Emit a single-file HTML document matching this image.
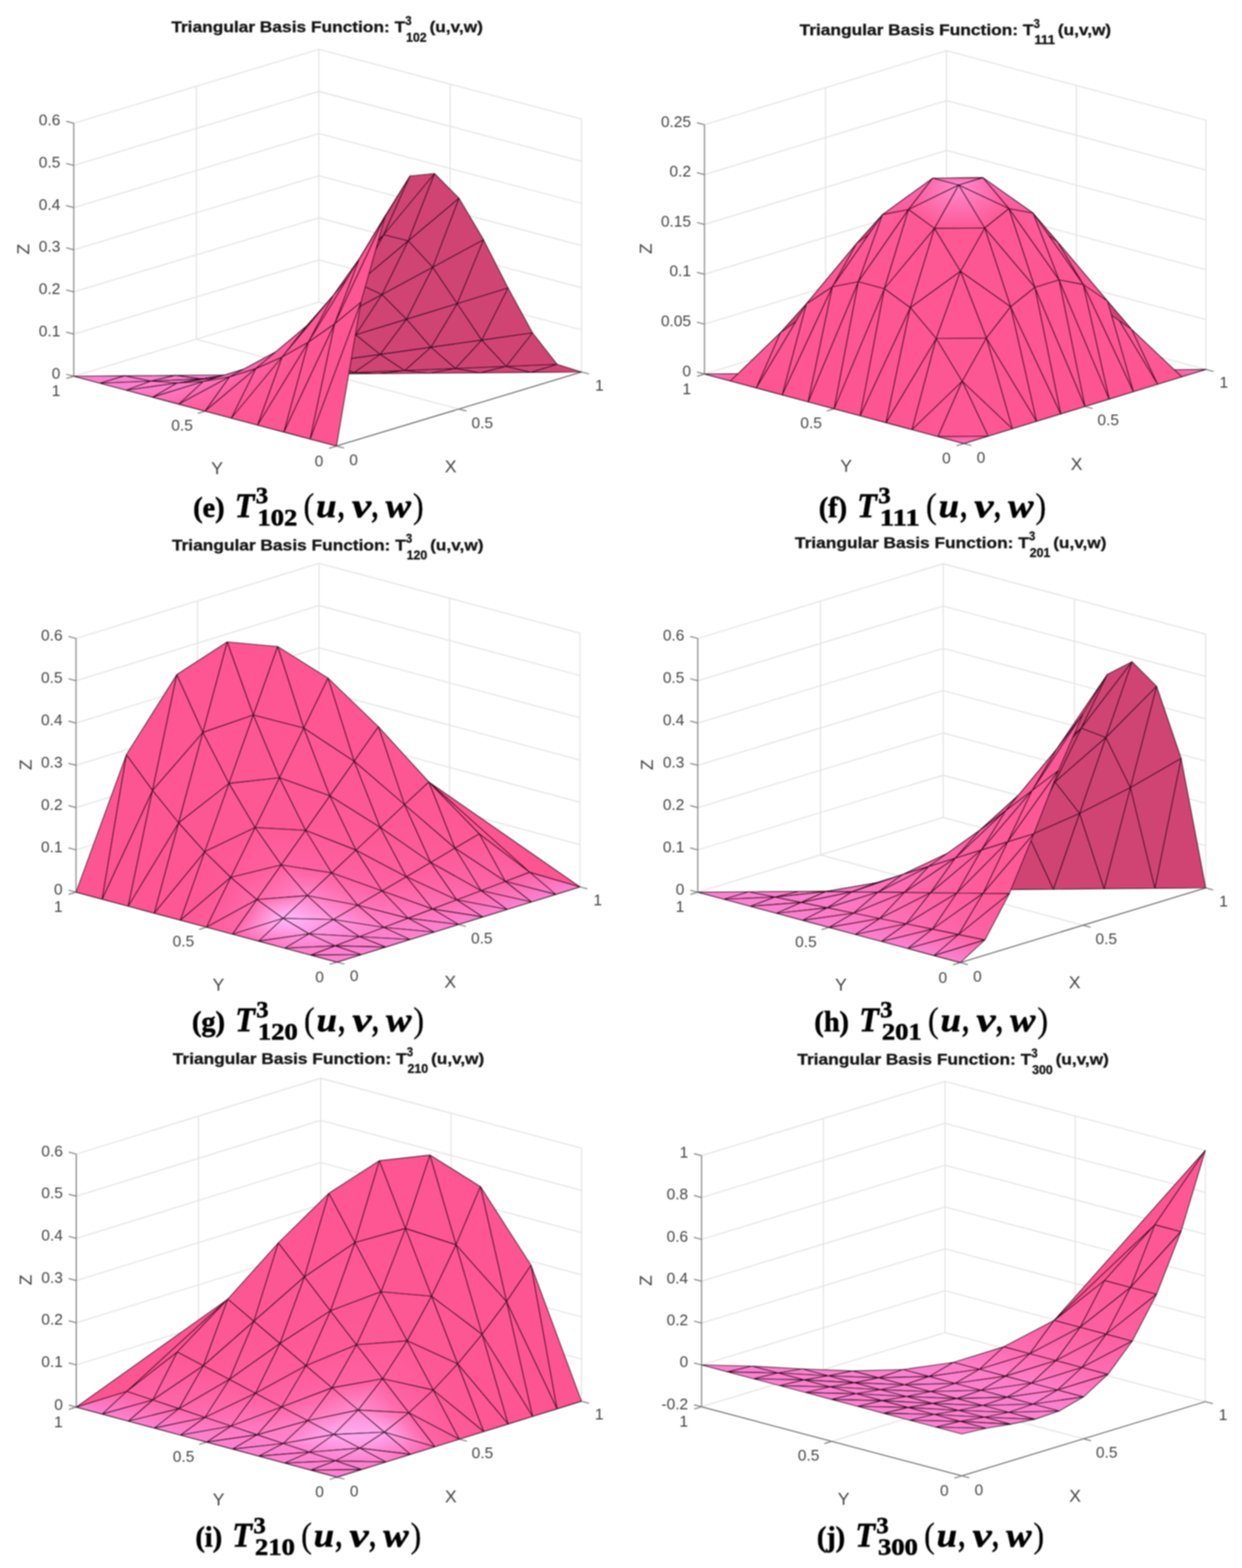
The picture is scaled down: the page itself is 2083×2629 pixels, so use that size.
<!DOCTYPE html>
<html lang="en"><head><meta charset="utf-8"><title>Triangular Basis Functions</title>
<style>html,body{margin:0;padding:0;background:#fff}body{width:2083px;height:2629px;overflow:hidden}svg{display:block;filter:blur(0.9px)}</style></head><body>
<svg xmlns="http://www.w3.org/2000/svg" width="2083" height="2629" viewBox="0 0 2083 2629">
<defs><linearGradient id="g1" gradientUnits="userSpaceOnUse" x1="485.0" y1="635.6" x2="459.7" y2="618.2"><stop offset="0" stop-color="#fd5693"/><stop offset="1" stop-color="#fd5a98"/></linearGradient><linearGradient id="g2" gradientUnits="userSpaceOnUse" x1="447.7" y1="705.2" x2="410.8" y2="628.6"><stop offset="0" stop-color="#fd5693"/><stop offset="1" stop-color="#fd5a98"/></linearGradient><linearGradient id="g3" gradientUnits="userSpaceOnUse" x1="438.5" y1="647.0" x2="419.0" y2="628.8"><stop offset="0" stop-color="#fd5895"/><stop offset="1" stop-color="#fc61a1"/></linearGradient><linearGradient id="g4" gradientUnits="userSpaceOnUse" x1="396.9" y1="698.0" x2="375.7" y2="636.2"><stop offset="0" stop-color="#fd5895"/><stop offset="1" stop-color="#fc61a1"/></linearGradient><linearGradient id="g5" gradientUnits="userSpaceOnUse" x1="392.0" y1="654.3" x2="378.8" y2="636.3"><stop offset="0" stop-color="#fd5b9a"/><stop offset="1" stop-color="#fb6cb1"/></linearGradient><linearGradient id="g6" gradientUnits="userSpaceOnUse" x1="337.2" y1="644.7" x2="348.9" y2="688.0"><stop offset="0" stop-color="#fc6cb1"/><stop offset="1" stop-color="#fd5b9a"/></linearGradient><linearGradient id="g7" gradientUnits="userSpaceOnUse" x1="345.5" y1="657.5" x2="338.2" y2="641.0"><stop offset="0" stop-color="#fc64a6"/><stop offset="1" stop-color="#fb77c1"/></linearGradient><linearGradient id="g8" gradientUnits="userSpaceOnUse" x1="296.4" y1="651.6" x2="303.1" y2="676.8"><stop offset="0" stop-color="#fd78c1"/><stop offset="1" stop-color="#fc64a6"/></linearGradient><linearGradient id="g9" gradientUnits="userSpaceOnUse" x1="299.4" y1="654.7" x2="296.2" y2="642.4"><stop offset="0" stop-color="#fd75bd"/><stop offset="1" stop-color="#fa7eca"/></linearGradient><linearGradient id="g10" gradientUnits="userSpaceOnUse" x1="256.9" y1="665.7" x2="253.7" y2="647.1"><stop offset="0" stop-color="#ff75bd"/><stop offset="1" stop-color="#fb7fcc"/></linearGradient><linearGradient id="g11" gradientUnits="userSpaceOnUse" x1="252.7" y1="639.0" x2="255.0" y2="650.5"><stop offset="0" stop-color="#fa81ce"/><stop offset="1" stop-color="#fc7eca"/></linearGradient><linearGradient id="g12" gradientUnits="userSpaceOnUse" x1="211.9" y1="654.2" x2="210.0" y2="637.7"><stop offset="0" stop-color="#fc80cc"/><stop offset="1" stop-color="#fa82d0"/></linearGradient><linearGradient id="g13" gradientUnits="userSpaceOnUse" x1="561.3" y1="502.4" x2="556.3" y2="499.3"><stop offset="0" stop-color="#fd5794"/><stop offset="1" stop-color="#fd5a98"/></linearGradient><linearGradient id="g14" gradientUnits="userSpaceOnUse" x1="525.5" y1="563.6" x2="511.7" y2="552.2"><stop offset="0" stop-color="#fd5794"/><stop offset="1" stop-color="#fd5a98"/></linearGradient><linearGradient id="g15" gradientUnits="userSpaceOnUse" x1="515.7" y1="547.4" x2="514.5" y2="546.3"><stop offset="0" stop-color="#fd5a98"/><stop offset="1" stop-color="#fc5e9e"/></linearGradient><linearGradient id="g16" gradientUnits="userSpaceOnUse" x1="478.1" y1="593.9" x2="467.1" y2="582.2"><stop offset="0" stop-color="#fd5a98"/><stop offset="1" stop-color="#fc61a1"/></linearGradient><linearGradient id="g17" gradientUnits="userSpaceOnUse" x1="431.4" y1="616.4" x2="423.6" y2="605.1"><stop offset="0" stop-color="#fc61a1"/><stop offset="1" stop-color="#fb6cb1"/></linearGradient><linearGradient id="g18" gradientUnits="userSpaceOnUse" x1="386.8" y1="633.6" x2="379.9" y2="620.0"><stop offset="0" stop-color="#fc6aae"/><stop offset="1" stop-color="#fb77c1"/></linearGradient><linearGradient id="g19" gradientUnits="userSpaceOnUse" x1="379.1" y1="645.2" x2="299.6" y2="629.3"><stop offset="0" stop-color="#fb72b9"/><stop offset="1" stop-color="#fa7eca"/></linearGradient><linearGradient id="g20" gradientUnits="userSpaceOnUse" x1="339.4" y1="637.8" x2="338.9" y2="634.7"><stop offset="0" stop-color="#fb72b9"/><stop offset="1" stop-color="#fa7eca"/></linearGradient><linearGradient id="g21" gradientUnits="userSpaceOnUse" x1="316.5" y1="658.2" x2="273.3" y2="617.4"><stop offset="0" stop-color="#fa7bc7"/><stop offset="1" stop-color="#fa81ce"/></linearGradient><linearGradient id="g22" gradientUnits="userSpaceOnUse" x1="296.2" y1="642.2" x2="294.2" y2="629.4"><stop offset="0" stop-color="#fa7bc7"/><stop offset="1" stop-color="#fa82d0"/></linearGradient><linearGradient id="g23" gradientUnits="userSpaceOnUse" x1="380.5" y1="635.4" x2="379.9" y2="628.6"><stop offset="0" stop-color="#fb74bd"/><stop offset="1" stop-color="#fa82d0"/></linearGradient><linearGradient id="g24" gradientUnits="userSpaceOnUse" x1="337.1" y1="635.4" x2="337.1" y2="629.0"><stop offset="0" stop-color="#fa7bc7"/><stop offset="1" stop-color="#fa82d0"/></linearGradient><linearGradient id="g25" gradientUnits="userSpaceOnUse" x1="465.4" y1="630.6" x2="465.2" y2="627.9"><stop offset="0" stop-color="#fb6db3"/><stop offset="1" stop-color="#fa82d0"/></linearGradient><linearGradient id="g26" gradientUnits="userSpaceOnUse" x1="422.3" y1="631.9" x2="422.2" y2="628.3"><stop offset="0" stop-color="#fb74bd"/><stop offset="1" stop-color="#fa82d0"/></linearGradient><linearGradient id="g27" gradientUnits="userSpaceOnUse" x1="507.4" y1="628.4" x2="507.4" y2="627.6"><stop offset="0" stop-color="#fb6db3"/><stop offset="1" stop-color="#fa82d0"/></linearGradient><linearGradient id="g28" gradientUnits="userSpaceOnUse" x1="1615.6" y1="731.6" x2="1615.7" y2="743.6"><stop offset="0" stop-color="#fd5896"/><stop offset="1" stop-color="#fa82d0"/></linearGradient><linearGradient id="g29" gradientUnits="userSpaceOnUse" x1="1550.1" y1="684.5" x2="1587.9" y2="706.2"><stop offset="0" stop-color="#fd5692"/><stop offset="1" stop-color="#fd5896"/></linearGradient><linearGradient id="g30" gradientUnits="userSpaceOnUse" x1="1368.1" y1="558.5" x2="1335.5" y2="540.9"><stop offset="0" stop-color="#fd5591"/><stop offset="1" stop-color="#fd5996"/></linearGradient><linearGradient id="g31" gradientUnits="userSpaceOnUse" x1="1317.6" y1="661.4" x2="1300.0" y2="515.6"><stop offset="0" stop-color="#fd5591"/><stop offset="1" stop-color="#fd5996"/></linearGradient><linearGradient id="g32" gradientUnits="userSpaceOnUse" x1="1318.3" y1="578.1" x2="1302.6" y2="567.3"><stop offset="0" stop-color="#fd5692"/><stop offset="1" stop-color="#fd5b99"/></linearGradient><linearGradient id="g33" gradientUnits="userSpaceOnUse" x1="1282.2" y1="643.0" x2="1252.7" y2="588.0"><stop offset="0" stop-color="#fd5692"/><stop offset="1" stop-color="#fd5b99"/></linearGradient><linearGradient id="g34" gradientUnits="userSpaceOnUse" x1="1226.9" y1="639.3" x2="1218.6" y2="614.6"><stop offset="0" stop-color="#fd5693"/><stop offset="1" stop-color="#fa82d0"/></linearGradient><linearGradient id="g35" gradientUnits="userSpaceOnUse" x1="1676.8" y1="684.0" x2="1641.5" y2="705.3"><stop offset="0" stop-color="#fd5692"/><stop offset="1" stop-color="#fd5896"/></linearGradient><linearGradient id="g36" gradientUnits="userSpaceOnUse" x1="1547.5" y1="452.1" x2="1502.7" y2="361.6"><stop offset="0" stop-color="#fd5692"/><stop offset="1" stop-color="#fd5997"/></linearGradient><linearGradient id="g37" gradientUnits="userSpaceOnUse" x1="1475.3" y1="482.8" x2="1495.2" y2="347.0"><stop offset="0" stop-color="#fd5692"/><stop offset="1" stop-color="#fd5997"/></linearGradient><linearGradient id="g38" gradientUnits="userSpaceOnUse" x1="1500.4" y1="414.6" x2="1463.4" y2="375.6"><stop offset="0" stop-color="#fd5692"/><stop offset="1" stop-color="#fd5c9b"/></linearGradient><linearGradient id="g39" gradientUnits="userSpaceOnUse" x1="1450.8" y1="467.8" x2="1417.5" y2="384.8"><stop offset="0" stop-color="#fd5692"/><stop offset="1" stop-color="#fd5c9b"/></linearGradient><linearGradient id="g40" gradientUnits="userSpaceOnUse" x1="1385.2" y1="426.8" x2="1489.6" y2="405.6"><stop offset="0" stop-color="#fd5693"/><stop offset="1" stop-color="#fd5c9b"/></linearGradient><linearGradient id="g41" gradientUnits="userSpaceOnUse" x1="1403.0" y1="473.0" x2="1389.7" y2="461.1"><stop offset="0" stop-color="#fd5693"/><stop offset="1" stop-color="#fd5997"/></linearGradient><linearGradient id="g42" gradientUnits="userSpaceOnUse" x1="1608.4" y1="310.3" x2="1609.1" y2="382.5"><stop offset="0" stop-color="#ff8cce"/><stop offset="1" stop-color="#fd5895"/></linearGradient><linearGradient id="g43" gradientUnits="userSpaceOnUse" x1="1595.6" y1="302.5" x2="1550.8" y2="372.4"><stop offset="0" stop-color="#ff8cce"/><stop offset="1" stop-color="#fd5895"/></linearGradient><linearGradient id="g44" gradientUnits="userSpaceOnUse" x1="1606.5" y1="324.1" x2="1527.2" y2="316.3"><stop offset="0" stop-color="#ff8dcd"/><stop offset="1" stop-color="#fa579a"/></linearGradient><linearGradient id="g45" gradientUnits="userSpaceOnUse" x1="1527.2" y1="350.1" x2="1515.6" y2="314.5"><stop offset="0" stop-color="#fd5997"/><stop offset="1" stop-color="#fb6db3"/></linearGradient><linearGradient id="g46" gradientUnits="userSpaceOnUse" x1="1670.7" y1="449.7" x2="1714.5" y2="360.8"><stop offset="0" stop-color="#fd5692"/><stop offset="1" stop-color="#fd5997"/></linearGradient><linearGradient id="g47" gradientUnits="userSpaceOnUse" x1="1618.9" y1="302.6" x2="1667.1" y2="371.1"><stop offset="0" stop-color="#ff8cce"/><stop offset="1" stop-color="#fd5895"/></linearGradient><linearGradient id="g48" gradientUnits="userSpaceOnUse" x1="1610.8" y1="326.4" x2="1685.2" y2="312.7"><stop offset="0" stop-color="#ff8dcd"/><stop offset="1" stop-color="#fa579b"/></linearGradient><linearGradient id="g49" gradientUnits="userSpaceOnUse" x1="1607.0" y1="310.3" x2="1606.9" y2="298.3"><stop offset="0" stop-color="#ff8cce"/><stop offset="1" stop-color="#fb6db3"/></linearGradient><linearGradient id="g50" gradientUnits="userSpaceOnUse" x1="1742.7" y1="480.4" x2="1719.0" y2="344.9"><stop offset="0" stop-color="#fd5692"/><stop offset="1" stop-color="#fd5997"/></linearGradient><linearGradient id="g51" gradientUnits="userSpaceOnUse" x1="1715.4" y1="411.1" x2="1750.5" y2="374.4"><stop offset="0" stop-color="#fd5692"/><stop offset="1" stop-color="#fd5c9b"/></linearGradient><linearGradient id="g52" gradientUnits="userSpaceOnUse" x1="1686.8" y1="348.0" x2="1697.8" y2="313.9"><stop offset="0" stop-color="#fd5997"/><stop offset="1" stop-color="#fb6db3"/></linearGradient><linearGradient id="g53" gradientUnits="userSpaceOnUse" x1="1763.1" y1="464.0" x2="1796.0" y2="383.1"><stop offset="0" stop-color="#fd5692"/><stop offset="1" stop-color="#fd5c9b"/></linearGradient><linearGradient id="g54" gradientUnits="userSpaceOnUse" x1="1812.5" y1="410.7" x2="1736.2" y2="415.5"><stop offset="0" stop-color="#fd5693"/><stop offset="1" stop-color="#fd5c9b"/></linearGradient><linearGradient id="g55" gradientUnits="userSpaceOnUse" x1="1845.0" y1="553.2" x2="1874.8" y2="537.1"><stop offset="0" stop-color="#fd5591"/><stop offset="1" stop-color="#fd5996"/></linearGradient><linearGradient id="g56" gradientUnits="userSpaceOnUse" x1="1808.9" y1="468.2" x2="1820.5" y2="457.9"><stop offset="0" stop-color="#fd5693"/><stop offset="1" stop-color="#fd5997"/></linearGradient><linearGradient id="g57" gradientUnits="userSpaceOnUse" x1="1893.9" y1="655.9" x2="1909.8" y2="510.3"><stop offset="0" stop-color="#fd5591"/><stop offset="1" stop-color="#fd5996"/></linearGradient><linearGradient id="g58" gradientUnits="userSpaceOnUse" x1="1892.1" y1="571.6" x2="1905.0" y2="562.9"><stop offset="0" stop-color="#fd5692"/><stop offset="1" stop-color="#fd5b99"/></linearGradient><linearGradient id="g59" gradientUnits="userSpaceOnUse" x1="1926.2" y1="636.2" x2="1954.7" y2="582.5"><stop offset="0" stop-color="#fd5692"/><stop offset="1" stop-color="#fd5b99"/></linearGradient><linearGradient id="g60" gradientUnits="userSpaceOnUse" x1="1978.6" y1="632.0" x2="1985.5" y2="608.5"><stop offset="0" stop-color="#fd5693"/><stop offset="1" stop-color="#fa82d0"/></linearGradient><linearGradient id="g61" gradientUnits="userSpaceOnUse" x1="517.1" y1="1579.5" x2="522.7" y2="1601.1"><stop offset="0" stop-color="#fd80cc"/><stop offset="1" stop-color="#fa82d0"/></linearGradient><linearGradient id="g62" gradientUnits="userSpaceOnUse" x1="519.2" y1="1565.7" x2="519.5" y2="1589.1"><stop offset="0" stop-color="#ff99e3"/><stop offset="1" stop-color="#fc7fcc"/></linearGradient><linearGradient id="g63" gradientUnits="userSpaceOnUse" x1="455.2" y1="1599.2" x2="503.6" y2="1550.9"><stop offset="0" stop-color="#fb73c0"/><stop offset="1" stop-color="#ff9ae1"/></linearGradient><linearGradient id="g64" gradientUnits="userSpaceOnUse" x1="478.4" y1="1540.3" x2="472.7" y2="1583.1"><stop offset="0" stop-color="#ffbbff"/><stop offset="1" stop-color="#ff74bf"/></linearGradient><linearGradient id="g65" gradientUnits="userSpaceOnUse" x1="457.7" y1="1527.4" x2="415.7" y2="1584.9"><stop offset="0" stop-color="#febdfd"/><stop offset="1" stop-color="#fe61a8"/></linearGradient><linearGradient id="g66" gradientUnits="userSpaceOnUse" x1="463.6" y1="1557.7" x2="414.2" y2="1527.2"><stop offset="0" stop-color="#febbff"/><stop offset="1" stop-color="#fe64a5"/></linearGradient><linearGradient id="g67" gradientUnits="userSpaceOnUse" x1="421.5" y1="1550.2" x2="350.8" y2="1534.5"><stop offset="0" stop-color="#fd6aac"/><stop offset="1" stop-color="#fd5c99"/></linearGradient><linearGradient id="g68" gradientUnits="userSpaceOnUse" x1="420.4" y1="1528.2" x2="370.7" y2="1502.1"><stop offset="0" stop-color="#ff6bab"/><stop offset="1" stop-color="#fd5a99"/></linearGradient><linearGradient id="g69" gradientUnits="userSpaceOnUse" x1="323.4" y1="1509.2" x2="360.3" y2="1532.0"><stop offset="0" stop-color="#fd5895"/><stop offset="1" stop-color="#fd5b9a"/></linearGradient><linearGradient id="g70" gradientUnits="userSpaceOnUse" x1="377.6" y1="1494.2" x2="325.0" y2="1472.7"><stop offset="0" stop-color="#fd5a98"/><stop offset="1" stop-color="#fd5794"/></linearGradient><linearGradient id="g71" gradientUnits="userSpaceOnUse" x1="603.4" y1="1570.5" x2="604.4" y2="1590.0"><stop offset="0" stop-color="#fe81cd"/><stop offset="1" stop-color="#fa82d0"/></linearGradient><linearGradient id="g72" gradientUnits="userSpaceOnUse" x1="551.8" y1="1551.7" x2="566.1" y2="1585.9"><stop offset="0" stop-color="#ff99e2"/><stop offset="1" stop-color="#fb81ce"/></linearGradient><linearGradient id="g73" gradientUnits="userSpaceOnUse" x1="549.3" y1="1543.9" x2="579.6" y2="1586.9"><stop offset="0" stop-color="#ff9ae2"/><stop offset="1" stop-color="#fe80cf"/></linearGradient><linearGradient id="g74" gradientUnits="userSpaceOnUse" x1="500.1" y1="1523.0" x2="526.7" y2="1563.2"><stop offset="0" stop-color="#ffbcfe"/><stop offset="1" stop-color="#ff97e2"/></linearGradient><linearGradient id="g75" gradientUnits="userSpaceOnUse" x1="506.1" y1="1552.8" x2="525.4" y2="1505.8"><stop offset="0" stop-color="#ffbaff"/><stop offset="1" stop-color="#ff84c8"/></linearGradient><linearGradient id="g76" gradientUnits="userSpaceOnUse" x1="469.4" y1="1498.9" x2="479.0" y2="1538.8"><stop offset="0" stop-color="#ff6aac"/><stop offset="1" stop-color="#ffbbff"/></linearGradient><linearGradient id="g77" gradientUnits="userSpaceOnUse" x1="454.4" y1="1464.0" x2="496.6" y2="1516.7"><stop offset="0" stop-color="#ff609f"/><stop offset="1" stop-color="#ff85c7"/></linearGradient><linearGradient id="g78" gradientUnits="userSpaceOnUse" x1="442.8" y1="1502.2" x2="419.1" y2="1455.0"><stop offset="0" stop-color="#ff6bab"/><stop offset="1" stop-color="#fe5a98"/></linearGradient><linearGradient id="g79" gradientUnits="userSpaceOnUse" x1="462.8" y1="1461.9" x2="404.8" y2="1418.0"><stop offset="0" stop-color="#ff609f"/><stop offset="1" stop-color="#fd5996"/></linearGradient><linearGradient id="g80" gradientUnits="userSpaceOnUse" x1="407.5" y1="1452.7" x2="366.6" y2="1407.2"><stop offset="0" stop-color="#fd5a98"/><stop offset="1" stop-color="#fd5794"/></linearGradient><linearGradient id="g81" gradientUnits="userSpaceOnUse" x1="639.9" y1="1559.1" x2="648.6" y2="1587.3"><stop offset="0" stop-color="#fe81cd"/><stop offset="1" stop-color="#fa82d0"/></linearGradient><linearGradient id="g82" gradientUnits="userSpaceOnUse" x1="645.5" y1="1578.4" x2="643.8" y2="1555.0"><stop offset="0" stop-color="#fb82d0"/><stop offset="1" stop-color="#ff7fc9"/></linearGradient><linearGradient id="g83" gradientUnits="userSpaceOnUse" x1="612.1" y1="1573.3" x2="585.1" y2="1526.7"><stop offset="0" stop-color="#fe7eca"/><stop offset="1" stop-color="#ff99df"/></linearGradient><linearGradient id="g84" gradientUnits="userSpaceOnUse" x1="591.7" y1="1557.4" x2="608.7" y2="1522.0"><stop offset="0" stop-color="#ff97e1"/><stop offset="1" stop-color="#ff73b8"/></linearGradient><linearGradient id="g85" gradientUnits="userSpaceOnUse" x1="551.0" y1="1538.6" x2="564.6" y2="1504.0"><stop offset="0" stop-color="#ff99e0"/><stop offset="1" stop-color="#ff74b7"/></linearGradient><linearGradient id="g86" gradientUnits="userSpaceOnUse" x1="546.0" y1="1516.8" x2="569.2" y2="1470.0"><stop offset="0" stop-color="#ff84c8"/><stop offset="1" stop-color="#ff61a1"/></linearGradient><linearGradient id="g87" gradientUnits="userSpaceOnUse" x1="510.2" y1="1500.9" x2="516.5" y2="1456.7"><stop offset="0" stop-color="#ff85c7"/><stop offset="1" stop-color="#ff60a0"/></linearGradient><linearGradient id="g88" gradientUnits="userSpaceOnUse" x1="511.9" y1="1460.9" x2="515.9" y2="1392.5"><stop offset="0" stop-color="#ff61a1"/><stop offset="1" stop-color="#fd5a97"/></linearGradient><linearGradient id="g89" gradientUnits="userSpaceOnUse" x1="472.7" y1="1450.2" x2="469.3" y2="1385.3"><stop offset="0" stop-color="#ff609f"/><stop offset="1" stop-color="#fd5996"/></linearGradient><linearGradient id="g90" gradientUnits="userSpaceOnUse" x1="680.1" y1="1543.8" x2="689.6" y2="1574.6"><stop offset="0" stop-color="#ff7fc9"/><stop offset="1" stop-color="#fa82d0"/></linearGradient><linearGradient id="g91" gradientUnits="userSpaceOnUse" x1="686.1" y1="1565.0" x2="684.7" y2="1539.6"><stop offset="0" stop-color="#fc83d0"/><stop offset="1" stop-color="#ff79c1"/></linearGradient><linearGradient id="g92" gradientUnits="userSpaceOnUse" x1="643.2" y1="1519.1" x2="642.1" y2="1555.0"><stop offset="0" stop-color="#ff73b8"/><stop offset="1" stop-color="#ff7fc9"/></linearGradient><linearGradient id="g93" gradientUnits="userSpaceOnUse" x1="644.1" y1="1494.2" x2="639.8" y2="1534.8"><stop offset="0" stop-color="#fd64a6"/><stop offset="1" stop-color="#ff7ac1"/></linearGradient><linearGradient id="g94" gradientUnits="userSpaceOnUse" x1="592.6" y1="1515.9" x2="603.1" y2="1475.8"><stop offset="0" stop-color="#ff74b8"/><stop offset="1" stop-color="#fe61a1"/></linearGradient><linearGradient id="g95" gradientUnits="userSpaceOnUse" x1="595.5" y1="1490.1" x2="600.8" y2="1425.7"><stop offset="0" stop-color="#fe64a5"/><stop offset="1" stop-color="#fd5b99"/></linearGradient><linearGradient id="g96" gradientUnits="userSpaceOnUse" x1="546.1" y1="1460.8" x2="561.0" y2="1405.3"><stop offset="0" stop-color="#ff61a1"/><stop offset="1" stop-color="#fd5a98"/></linearGradient><linearGradient id="g97" gradientUnits="userSpaceOnUse" x1="555.5" y1="1426.7" x2="552.5" y2="1334.3"><stop offset="0" stop-color="#fd5b99"/><stop offset="1" stop-color="#fd5895"/></linearGradient><linearGradient id="g98" gradientUnits="userSpaceOnUse" x1="503.7" y1="1390.9" x2="516.5" y2="1311.7"><stop offset="0" stop-color="#fd5a97"/><stop offset="1" stop-color="#fd5794"/></linearGradient><linearGradient id="g99" gradientUnits="userSpaceOnUse" x1="720.3" y1="1528.5" x2="730.6" y2="1561.9"><stop offset="0" stop-color="#ff79c1"/><stop offset="1" stop-color="#fa82d0"/></linearGradient><linearGradient id="g100" gradientUnits="userSpaceOnUse" x1="727.7" y1="1553.9" x2="724.9" y2="1524.2"><stop offset="0" stop-color="#fc83d0"/><stop offset="1" stop-color="#fe72b8"/></linearGradient><linearGradient id="g101" gradientUnits="userSpaceOnUse" x1="683.6" y1="1539.6" x2="683.2" y2="1493.5"><stop offset="0" stop-color="#ff79c1"/><stop offset="1" stop-color="#fd64a6"/></linearGradient><linearGradient id="g102" gradientUnits="userSpaceOnUse" x1="678.3" y1="1470.4" x2="687.9" y2="1530.1"><stop offset="0" stop-color="#fd5f9e"/><stop offset="1" stop-color="#ff72b8"/></linearGradient><linearGradient id="g103" gradientUnits="userSpaceOnUse" x1="632.3" y1="1491.7" x2="646.1" y2="1438.0"><stop offset="0" stop-color="#fe64a6"/><stop offset="1" stop-color="#fc5b99"/></linearGradient><linearGradient id="g104" gradientUnits="userSpaceOnUse" x1="634.4" y1="1387.6" x2="643.6" y2="1474.0"><stop offset="0" stop-color="#fd5996"/><stop offset="1" stop-color="#fd5f9e"/></linearGradient><linearGradient id="g105" gradientUnits="userSpaceOnUse" x1="582.6" y1="1420.4" x2="606.2" y2="1352.7"><stop offset="0" stop-color="#fd5b99"/><stop offset="1" stop-color="#fd5895"/></linearGradient><linearGradient id="g106" gradientUnits="userSpaceOnUse" x1="760.5" y1="1513.2" x2="771.7" y2="1549.2"><stop offset="0" stop-color="#fe72b8"/><stop offset="1" stop-color="#fa82d0"/></linearGradient><linearGradient id="g107" gradientUnits="userSpaceOnUse" x1="770.1" y1="1543.6" x2="764.7" y2="1508.9"><stop offset="0" stop-color="#fc82d0"/><stop offset="1" stop-color="#fd6cb0"/></linearGradient><linearGradient id="g108" gradientUnits="userSpaceOnUse" x1="723.6" y1="1524.1" x2="725.0" y2="1471.0"><stop offset="0" stop-color="#fe72b8"/><stop offset="1" stop-color="#fc5e9e"/></linearGradient><linearGradient id="g109" gradientUnits="userSpaceOnUse" x1="733.8" y1="1516.8" x2="716.2" y2="1447.4"><stop offset="0" stop-color="#fd6cb0"/><stop offset="1" stop-color="#fd5c9a"/></linearGradient><linearGradient id="g110" gradientUnits="userSpaceOnUse" x1="671.1" y1="1467.0" x2="689.6" y2="1402.1"><stop offset="0" stop-color="#fd5f9e"/><stop offset="1" stop-color="#fd5996"/></linearGradient><linearGradient id="g111" gradientUnits="userSpaceOnUse" x1="672.3" y1="1350.1" x2="688.6" y2="1451.3"><stop offset="0" stop-color="#fd5794"/><stop offset="1" stop-color="#fd5c9a"/></linearGradient><linearGradient id="g112" gradientUnits="userSpaceOnUse" x1="800.7" y1="1497.9" x2="812.7" y2="1536.5"><stop offset="0" stop-color="#fd6cb0"/><stop offset="1" stop-color="#fa82d0"/></linearGradient><linearGradient id="g113" gradientUnits="userSpaceOnUse" x1="804.5" y1="1493.7" x2="812.7" y2="1532.8"><stop offset="0" stop-color="#fc67aa"/><stop offset="1" stop-color="#fb82d0"/></linearGradient><linearGradient id="g114" gradientUnits="userSpaceOnUse" x1="763.7" y1="1508.6" x2="766.5" y2="1447.9"><stop offset="0" stop-color="#fd6cb0"/><stop offset="1" stop-color="#fc5b9a"/></linearGradient><linearGradient id="g115" gradientUnits="userSpaceOnUse" x1="778.1" y1="1501.7" x2="755.2" y2="1424.3"><stop offset="0" stop-color="#fc67aa"/><stop offset="1" stop-color="#fd5a97"/></linearGradient><linearGradient id="g116" gradientUnits="userSpaceOnUse" x1="733.8" y1="1367.5" x2="709.2" y2="1441.7"><stop offset="0" stop-color="#fd5794"/><stop offset="1" stop-color="#fd5c9a"/></linearGradient><linearGradient id="g117" gradientUnits="userSpaceOnUse" x1="710.6" y1="1312.7" x2="733.5" y2="1427.8"><stop offset="0" stop-color="#fd5793"/><stop offset="1" stop-color="#fd5a97"/></linearGradient><linearGradient id="g118" gradientUnits="userSpaceOnUse" x1="840.9" y1="1482.7" x2="853.7" y2="1523.8"><stop offset="0" stop-color="#fc67aa"/><stop offset="1" stop-color="#fa82d0"/></linearGradient><linearGradient id="g119" gradientUnits="userSpaceOnUse" x1="844.4" y1="1478.6" x2="855.2" y2="1521.3"><stop offset="0" stop-color="#fc64a5"/><stop offset="1" stop-color="#fa82d0"/></linearGradient><linearGradient id="g120" gradientUnits="userSpaceOnUse" x1="804.0" y1="1493.1" x2="808.0" y2="1424.6"><stop offset="0" stop-color="#fc67aa"/><stop offset="1" stop-color="#fc5a98"/></linearGradient><linearGradient id="g121" gradientUnits="userSpaceOnUse" x1="794.3" y1="1401.1" x2="822.2" y2="1486.1"><stop offset="0" stop-color="#fd5896"/><stop offset="1" stop-color="#fc64a5"/></linearGradient><linearGradient id="g122" gradientUnits="userSpaceOnUse" x1="778.4" y1="1333.3" x2="747.2" y2="1416.1"><stop offset="0" stop-color="#fd5793"/><stop offset="1" stop-color="#fd5a97"/></linearGradient><linearGradient id="g123" gradientUnits="userSpaceOnUse" x1="881.2" y1="1467.4" x2="894.7" y2="1511.1"><stop offset="0" stop-color="#fc64a5"/><stop offset="1" stop-color="#fa82d0"/></linearGradient><linearGradient id="g124" gradientUnits="userSpaceOnUse" x1="884.5" y1="1463.4" x2="897.4" y2="1509.3"><stop offset="0" stop-color="#fc61a2"/><stop offset="1" stop-color="#fa82d0"/></linearGradient><linearGradient id="g125" gradientUnits="userSpaceOnUse" x1="844.1" y1="1477.6" x2="849.7" y2="1401.4"><stop offset="0" stop-color="#fc64a5"/><stop offset="1" stop-color="#fd5896"/></linearGradient><linearGradient id="g126" gradientUnits="userSpaceOnUse" x1="921.4" y1="1452.1" x2="935.7" y2="1498.4"><stop offset="0" stop-color="#fc61a2"/><stop offset="1" stop-color="#fa82d0"/></linearGradient><linearGradient id="g127" gradientUnits="userSpaceOnUse" x1="1617.8" y1="1566.8" x2="1605.5" y2="1612.5"><stop offset="0" stop-color="#fc62a3"/><stop offset="1" stop-color="#fa82d0"/></linearGradient><linearGradient id="g128" gradientUnits="userSpaceOnUse" x1="1614.2" y1="1564.0" x2="1599.0" y2="1612.3"><stop offset="0" stop-color="#fc62a3"/><stop offset="1" stop-color="#fa82d0"/></linearGradient><linearGradient id="g129" gradientUnits="userSpaceOnUse" x1="1573.3" y1="1557.7" x2="1561.8" y2="1600.8"><stop offset="0" stop-color="#fc65a7"/><stop offset="1" stop-color="#fa82d0"/></linearGradient><linearGradient id="g130" gradientUnits="userSpaceOnUse" x1="1571.2" y1="1553.7" x2="1553.9" y2="1601.6"><stop offset="0" stop-color="#fd65a7"/><stop offset="1" stop-color="#fa82d0"/></linearGradient><linearGradient id="g131" gradientUnits="userSpaceOnUse" x1="1528.8" y1="1548.6" x2="1518.0" y2="1589.1"><stop offset="0" stop-color="#fc69ad"/><stop offset="1" stop-color="#fa82d0"/></linearGradient><linearGradient id="g132" gradientUnits="userSpaceOnUse" x1="1529.0" y1="1542.7" x2="1507.7" y2="1591.3"><stop offset="0" stop-color="#fd69ad"/><stop offset="1" stop-color="#f982d0"/></linearGradient><linearGradient id="g133" gradientUnits="userSpaceOnUse" x1="1484.3" y1="1539.5" x2="1474.2" y2="1577.3"><stop offset="0" stop-color="#fc6db3"/><stop offset="1" stop-color="#fa82d0"/></linearGradient><linearGradient id="g134" gradientUnits="userSpaceOnUse" x1="1488.6" y1="1531.1" x2="1459.7" y2="1581.2"><stop offset="0" stop-color="#fd6eb3"/><stop offset="1" stop-color="#f982d0"/></linearGradient><linearGradient id="g135" gradientUnits="userSpaceOnUse" x1="1439.8" y1="1530.4" x2="1430.4" y2="1565.6"><stop offset="0" stop-color="#fd73ba"/><stop offset="1" stop-color="#fa82d0"/></linearGradient><linearGradient id="g136" gradientUnits="userSpaceOnUse" x1="1451.5" y1="1519.6" x2="1408.6" y2="1570.3"><stop offset="0" stop-color="#fd73ba"/><stop offset="1" stop-color="#f982d0"/></linearGradient><linearGradient id="g137" gradientUnits="userSpaceOnUse" x1="1395.3" y1="1521.3" x2="1386.6" y2="1553.9"><stop offset="0" stop-color="#fc78c1"/><stop offset="1" stop-color="#fa82d0"/></linearGradient><linearGradient id="g138" gradientUnits="userSpaceOnUse" x1="1421.4" y1="1513.2" x2="1352.1" y2="1553.0"><stop offset="0" stop-color="#fc78c1"/><stop offset="1" stop-color="#fa82d0"/></linearGradient><linearGradient id="g139" gradientUnits="userSpaceOnUse" x1="1350.8" y1="1512.2" x2="1342.8" y2="1542.1"><stop offset="0" stop-color="#fb7cc7"/><stop offset="1" stop-color="#fa82d0"/></linearGradient><linearGradient id="g140" gradientUnits="userSpaceOnUse" x1="1383.7" y1="1534.5" x2="1308.8" y2="1510.9"><stop offset="0" stop-color="#fc7cc7"/><stop offset="1" stop-color="#fa82d0"/></linearGradient><linearGradient id="g141" gradientUnits="userSpaceOnUse" x1="1306.3" y1="1503.1" x2="1299.0" y2="1530.4"><stop offset="0" stop-color="#fb7fcc"/><stop offset="1" stop-color="#fa82d0"/></linearGradient><linearGradient id="g142" gradientUnits="userSpaceOnUse" x1="1313.2" y1="1532.3" x2="1291.7" y2="1498.4"><stop offset="0" stop-color="#fb80cc"/><stop offset="1" stop-color="#fa82d0"/></linearGradient><linearGradient id="g143" gradientUnits="userSpaceOnUse" x1="1700.0" y1="1506.9" x2="1615.1" y2="1576.0"><stop offset="0" stop-color="#fd5a97"/><stop offset="1" stop-color="#fc65a7"/></linearGradient><linearGradient id="g144" gradientUnits="userSpaceOnUse" x1="1663.3" y1="1486.5" x2="1628.6" y2="1575.1"><stop offset="0" stop-color="#fd5a97"/><stop offset="1" stop-color="#fc65a7"/></linearGradient><linearGradient id="g145" gradientUnits="userSpaceOnUse" x1="1571.7" y1="1568.2" x2="1653.9" y2="1504.1"><stop offset="0" stop-color="#fc69ad"/><stop offset="1" stop-color="#fd5b9a"/></linearGradient><linearGradient id="g146" gradientUnits="userSpaceOnUse" x1="1623.2" y1="1484.2" x2="1580.2" y2="1566.6"><stop offset="0" stop-color="#fc5b9a"/><stop offset="1" stop-color="#fc69ad"/></linearGradient><linearGradient id="g147" gradientUnits="userSpaceOnUse" x1="1528.0" y1="1560.3" x2="1607.9" y2="1501.4"><stop offset="0" stop-color="#fc6db3"/><stop offset="1" stop-color="#fc5e9e"/></linearGradient><linearGradient id="g148" gradientUnits="userSpaceOnUse" x1="1587.1" y1="1482.9" x2="1528.2" y2="1555.9"><stop offset="0" stop-color="#fc5e9e"/><stop offset="1" stop-color="#fd6eb3"/></linearGradient><linearGradient id="g149" gradientUnits="userSpaceOnUse" x1="1484.5" y1="1552.6" x2="1561.9" y2="1498.3"><stop offset="0" stop-color="#fd73ba"/><stop offset="1" stop-color="#fc63a4"/></linearGradient><linearGradient id="g150" gradientUnits="userSpaceOnUse" x1="1557.5" y1="1490.4" x2="1472.7" y2="1534.4"><stop offset="0" stop-color="#fc63a4"/><stop offset="1" stop-color="#fc73ba"/></linearGradient><linearGradient id="g151" gradientUnits="userSpaceOnUse" x1="1516.2" y1="1495.3" x2="1440.5" y2="1544.7"><stop offset="0" stop-color="#fc69ad"/><stop offset="1" stop-color="#fd78c1"/></linearGradient><linearGradient id="g152" gradientUnits="userSpaceOnUse" x1="1510.7" y1="1518.1" x2="1440.7" y2="1498.5"><stop offset="0" stop-color="#fd69ad"/><stop offset="1" stop-color="#fb78c1"/></linearGradient><linearGradient id="g153" gradientUnits="userSpaceOnUse" x1="1473.9" y1="1498.6" x2="1391.7" y2="1532.2"><stop offset="0" stop-color="#fb72b9"/><stop offset="1" stop-color="#fc7cc7"/></linearGradient><linearGradient id="g154" gradientUnits="userSpaceOnUse" x1="1444.4" y1="1521.0" x2="1419.9" y2="1493.4"><stop offset="0" stop-color="#fc72b9"/><stop offset="1" stop-color="#fa7cc8"/></linearGradient><linearGradient id="g155" gradientUnits="userSpaceOnUse" x1="1413.7" y1="1524.3" x2="1353.9" y2="1493.2"><stop offset="0" stop-color="#fc7ac5"/><stop offset="1" stop-color="#fa7fcc"/></linearGradient><linearGradient id="g156" gradientUnits="userSpaceOnUse" x1="1402.8" y1="1519.5" x2="1372.1" y2="1486.5"><stop offset="0" stop-color="#fb7ac5"/><stop offset="1" stop-color="#fa7fcc"/></linearGradient><linearGradient id="g157" gradientUnits="userSpaceOnUse" x1="1383.8" y1="1507.1" x2="1299.7" y2="1500.9"><stop offset="0" stop-color="#fb7eca"/><stop offset="1" stop-color="#fa81cf"/></linearGradient><linearGradient id="g158" gradientUnits="userSpaceOnUse" x1="1341.4" y1="1494.4" x2="1341.9" y2="1501.3"><stop offset="0" stop-color="#fb7ac5"/><stop offset="1" stop-color="#fa81cf"/></linearGradient><linearGradient id="g159" gradientUnits="userSpaceOnUse" x1="1300.9" y1="1486.4" x2="1297.4" y2="1503.7"><stop offset="0" stop-color="#fa7ac5"/><stop offset="1" stop-color="#fa81cf"/></linearGradient><linearGradient id="g160" gradientUnits="userSpaceOnUse" x1="1733.4" y1="1464.9" x2="1649.2" y2="1464.1"><stop offset="0" stop-color="#fd5895"/><stop offset="1" stop-color="#fd5c9a"/></linearGradient><linearGradient id="g161" gradientUnits="userSpaceOnUse" x1="1738.8" y1="1428.2" x2="1640.5" y2="1443.4"><stop offset="0" stop-color="#fd5895"/><stop offset="1" stop-color="#fd5c9a"/></linearGradient><linearGradient id="g162" gradientUnits="userSpaceOnUse" x1="1682.0" y1="1473.2" x2="1609.2" y2="1463.7"><stop offset="0" stop-color="#fd5a97"/><stop offset="1" stop-color="#fc5e9e"/></linearGradient><linearGradient id="g163" gradientUnits="userSpaceOnUse" x1="1682.6" y1="1451.2" x2="1615.8" y2="1438.7"><stop offset="0" stop-color="#fd5a97"/><stop offset="1" stop-color="#fc5e9e"/></linearGradient><linearGradient id="g164" gradientUnits="userSpaceOnUse" x1="1629.3" y1="1480.7" x2="1570.9" y2="1463.1"><stop offset="0" stop-color="#fd5c9b"/><stop offset="1" stop-color="#fc63a4"/></linearGradient><linearGradient id="g165" gradientUnits="userSpaceOnUse" x1="1624.1" y1="1465.2" x2="1588.6" y2="1445.8"><stop offset="0" stop-color="#fd5c9b"/><stop offset="1" stop-color="#fc63a4"/></linearGradient><linearGradient id="g166" gradientUnits="userSpaceOnUse" x1="1575.7" y1="1486.1" x2="1535.0" y2="1463.5"><stop offset="0" stop-color="#fc61a2"/><stop offset="1" stop-color="#fc69ad"/></linearGradient><linearGradient id="g167" gradientUnits="userSpaceOnUse" x1="1570.3" y1="1473.1" x2="1553.0" y2="1457.1"><stop offset="0" stop-color="#fc61a2"/><stop offset="1" stop-color="#fc69ad"/></linearGradient><linearGradient id="g168" gradientUnits="userSpaceOnUse" x1="1524.2" y1="1489.2" x2="1499.6" y2="1466.6"><stop offset="0" stop-color="#fc69ad"/><stop offset="1" stop-color="#fb72b9"/></linearGradient><linearGradient id="g169" gradientUnits="userSpaceOnUse" x1="1522.9" y1="1481.3" x2="1509.8" y2="1465.4"><stop offset="0" stop-color="#fc69ad"/><stop offset="1" stop-color="#fb72b9"/></linearGradient><linearGradient id="g170" gradientUnits="userSpaceOnUse" x1="1480.3" y1="1495.6" x2="1457.9" y2="1469.9"><stop offset="0" stop-color="#fb70b7"/><stop offset="1" stop-color="#fb7ac5"/></linearGradient><linearGradient id="g171" gradientUnits="userSpaceOnUse" x1="1470.6" y1="1479.8" x2="1471.3" y2="1482.1"><stop offset="0" stop-color="#fb70b7"/><stop offset="1" stop-color="#fb7ac5"/></linearGradient><linearGradient id="g172" gradientUnits="userSpaceOnUse" x1="1432.0" y1="1471.5" x2="1424.7" y2="1503.9"><stop offset="0" stop-color="#fb70b7"/><stop offset="1" stop-color="#fa7eca"/></linearGradient><linearGradient id="g173" gradientUnits="userSpaceOnUse" x1="1383.7" y1="1493.5" x2="1383.7" y2="1494.9"><stop offset="0" stop-color="#fc69ad"/><stop offset="1" stop-color="#fa7eca"/></linearGradient><linearGradient id="g174" gradientUnits="userSpaceOnUse" x1="1700.5" y1="1392.4" x2="1667.7" y2="1377.5"><stop offset="0" stop-color="#fd5997"/><stop offset="1" stop-color="#fd5c9b"/></linearGradient><linearGradient id="g175" gradientUnits="userSpaceOnUse" x1="1698.6" y1="1376.3" x2="1682.5" y2="1366.1"><stop offset="0" stop-color="#fd5997"/><stop offset="1" stop-color="#fc5d9c"/></linearGradient><linearGradient id="g176" gradientUnits="userSpaceOnUse" x1="1653.7" y1="1413.1" x2="1628.5" y2="1397.1"><stop offset="0" stop-color="#fd5c9b"/><stop offset="1" stop-color="#fc61a2"/></linearGradient><linearGradient id="g177" gradientUnits="userSpaceOnUse" x1="1650.4" y1="1402.0" x2="1640.4" y2="1393.5"><stop offset="0" stop-color="#fc5d9c"/><stop offset="1" stop-color="#fc61a2"/></linearGradient><linearGradient id="g178" gradientUnits="userSpaceOnUse" x1="1608.2" y1="1433.9" x2="1587.9" y2="1416.9"><stop offset="0" stop-color="#fc61a2"/><stop offset="1" stop-color="#fc69ad"/></linearGradient><linearGradient id="g179" gradientUnits="userSpaceOnUse" x1="1583.6" y1="1460.2" x2="1527.9" y2="1435.2"><stop offset="0" stop-color="#fc63a5"/><stop offset="1" stop-color="#fb70b7"/></linearGradient><linearGradient id="g180" gradientUnits="userSpaceOnUse" x1="1736.7" y1="1317.0" x2="1717.8" y2="1306.0"><stop offset="0" stop-color="#fd5997"/><stop offset="1" stop-color="#fc5d9c"/></linearGradient><linearGradient id="g181" gradientUnits="userSpaceOnUse" x1="1692.8" y1="1360.5" x2="1677.3" y2="1348.4"><stop offset="0" stop-color="#fd5b99"/><stop offset="1" stop-color="#fc61a2"/></linearGradient><linearGradient id="g182" gradientUnits="userSpaceOnUse" x1="519.9" y1="2434.8" x2="519.5" y2="2454.0"><stop offset="0" stop-color="#ff83cf"/><stop offset="1" stop-color="#fa82d0"/></linearGradient><linearGradient id="g183" gradientUnits="userSpaceOnUse" x1="481.7" y1="2424.8" x2="474.4" y2="2452.2"><stop offset="0" stop-color="#ff83cf"/><stop offset="1" stop-color="#fa82d0"/></linearGradient><linearGradient id="g184" gradientUnits="userSpaceOnUse" x1="478.2" y1="2420.8" x2="472.5" y2="2449.2"><stop offset="0" stop-color="#ff83cd"/><stop offset="1" stop-color="#fb82d1"/></linearGradient><linearGradient id="g185" gradientUnits="userSpaceOnUse" x1="438.5" y1="2410.4" x2="430.4" y2="2440.4"><stop offset="0" stop-color="#ff83cd"/><stop offset="1" stop-color="#fa82d0"/></linearGradient><linearGradient id="g186" gradientUnits="userSpaceOnUse" x1="432.4" y1="2428.9" x2="432.0" y2="2405.6"><stop offset="0" stop-color="#fc83d0"/><stop offset="1" stop-color="#ff7ec7"/></linearGradient><linearGradient id="g187" gradientUnits="userSpaceOnUse" x1="395.2" y1="2395.9" x2="386.4" y2="2428.6"><stop offset="0" stop-color="#ff7ec7"/><stop offset="1" stop-color="#fa82d0"/></linearGradient><linearGradient id="g188" gradientUnits="userSpaceOnUse" x1="388.5" y1="2417.8" x2="388.4" y2="2391.0"><stop offset="0" stop-color="#fc83d0"/><stop offset="1" stop-color="#ff76bd"/></linearGradient><linearGradient id="g189" gradientUnits="userSpaceOnUse" x1="352.0" y1="2381.5" x2="342.5" y2="2416.8"><stop offset="0" stop-color="#ff76bd"/><stop offset="1" stop-color="#fa82d0"/></linearGradient><linearGradient id="g190" gradientUnits="userSpaceOnUse" x1="343.5" y1="2409.0" x2="345.7" y2="2376.6"><stop offset="0" stop-color="#fb83d0"/><stop offset="1" stop-color="#ff6eb3"/></linearGradient><linearGradient id="g191" gradientUnits="userSpaceOnUse" x1="308.7" y1="2367.0" x2="298.5" y2="2405.0"><stop offset="0" stop-color="#ff6eb3"/><stop offset="1" stop-color="#fa82d0"/></linearGradient><linearGradient id="g192" gradientUnits="userSpaceOnUse" x1="297.8" y1="2400.0" x2="303.2" y2="2362.4"><stop offset="0" stop-color="#fc82d0"/><stop offset="1" stop-color="#fe68ab"/></linearGradient><linearGradient id="g193" gradientUnits="userSpaceOnUse" x1="265.4" y1="2352.6" x2="254.5" y2="2393.2"><stop offset="0" stop-color="#fe68ab"/><stop offset="1" stop-color="#fa82d0"/></linearGradient><linearGradient id="g194" gradientUnits="userSpaceOnUse" x1="260.4" y1="2348.1" x2="252.1" y2="2390.0"><stop offset="0" stop-color="#fd64a6"/><stop offset="1" stop-color="#fb82d0"/></linearGradient><linearGradient id="g195" gradientUnits="userSpaceOnUse" x1="222.2" y1="2338.2" x2="210.6" y2="2381.4"><stop offset="0" stop-color="#fd64a6"/><stop offset="1" stop-color="#fa82d0"/></linearGradient><linearGradient id="g196" gradientUnits="userSpaceOnUse" x1="217.4" y1="2333.9" x2="206.7" y2="2379.2"><stop offset="0" stop-color="#fd61a2"/><stop offset="1" stop-color="#fa82d0"/></linearGradient><linearGradient id="g197" gradientUnits="userSpaceOnUse" x1="178.9" y1="2323.7" x2="166.6" y2="2369.6"><stop offset="0" stop-color="#fc61a2"/><stop offset="1" stop-color="#fa82d0"/></linearGradient><linearGradient id="g198" gradientUnits="userSpaceOnUse" x1="608.8" y1="2441.3" x2="603.1" y2="2463.1"><stop offset="0" stop-color="#fc7fcb"/><stop offset="1" stop-color="#fa82d0"/></linearGradient><linearGradient id="g199" gradientUnits="userSpaceOnUse" x1="604.1" y1="2428.1" x2="604.5" y2="2451.9"><stop offset="0" stop-color="#ff99e3"/><stop offset="1" stop-color="#fb7ecb"/></linearGradient><linearGradient id="g200" gradientUnits="userSpaceOnUse" x1="558.2" y1="2448.0" x2="568.0" y2="2417.0"><stop offset="0" stop-color="#fc82cf"/><stop offset="1" stop-color="#ff99e2"/></linearGradient><linearGradient id="g201" gradientUnits="userSpaceOnUse" x1="557.6" y1="2441.2" x2="563.4" y2="2405.7"><stop offset="0" stop-color="#ff82cf"/><stop offset="1" stop-color="#ffabf2"/></linearGradient><linearGradient id="g202" gradientUnits="userSpaceOnUse" x1="513.1" y1="2433.6" x2="527.1" y2="2393.6"><stop offset="0" stop-color="#ff82ce"/><stop offset="1" stop-color="#ffabf1"/></linearGradient><linearGradient id="g203" gradientUnits="userSpaceOnUse" x1="507.0" y1="2388.5" x2="532.6" y2="2424.4"><stop offset="0" stop-color="#ff7ec3"/><stop offset="1" stop-color="#ffa9f4"/></linearGradient><linearGradient id="g204" gradientUnits="userSpaceOnUse" x1="472.0" y1="2388.6" x2="476.7" y2="2419.9"><stop offset="0" stop-color="#ff7ec3"/><stop offset="1" stop-color="#ff83cd"/></linearGradient><linearGradient id="g205" gradientUnits="userSpaceOnUse" x1="467.8" y1="2360.0" x2="476.2" y2="2394.7"><stop offset="0" stop-color="#ff66a8"/><stop offset="1" stop-color="#ff80c6"/></linearGradient><linearGradient id="g206" gradientUnits="userSpaceOnUse" x1="430.1" y1="2359.5" x2="430.6" y2="2405.6"><stop offset="0" stop-color="#ff66a8"/><stop offset="1" stop-color="#ff7ec7"/></linearGradient><linearGradient id="g207" gradientUnits="userSpaceOnUse" x1="426.2" y1="2394.9" x2="432.0" y2="2336.2"><stop offset="0" stop-color="#ff77bd"/><stop offset="1" stop-color="#fd5f9f"/></linearGradient><linearGradient id="g208" gradientUnits="userSpaceOnUse" x1="388.1" y1="2391.0" x2="384.8" y2="2338.7"><stop offset="0" stop-color="#ff76bd"/><stop offset="1" stop-color="#fd5f9f"/></linearGradient><linearGradient id="g209" gradientUnits="userSpaceOnUse" x1="376.0" y1="2383.9" x2="392.0" y2="2314.5"><stop offset="0" stop-color="#ff6eb3"/><stop offset="1" stop-color="#fd5c9a"/></linearGradient><linearGradient id="g210" gradientUnits="userSpaceOnUse" x1="345.4" y1="2376.3" x2="339.7" y2="2317.2"><stop offset="0" stop-color="#ff6eb3"/><stop offset="1" stop-color="#fc5b9a"/></linearGradient><linearGradient id="g211" gradientUnits="userSpaceOnUse" x1="328.8" y1="2369.7" x2="350.0" y2="2292.2"><stop offset="0" stop-color="#fe68ab"/><stop offset="1" stop-color="#fd5a97"/></linearGradient><linearGradient id="g212" gradientUnits="userSpaceOnUse" x1="302.2" y1="2361.7" x2="295.1" y2="2294.7"><stop offset="0" stop-color="#fe68ab"/><stop offset="1" stop-color="#fc5a98"/></linearGradient><linearGradient id="g213" gradientUnits="userSpaceOnUse" x1="282.4" y1="2355.0" x2="307.6" y2="2269.8"><stop offset="0" stop-color="#fd64a6"/><stop offset="1" stop-color="#fd5896"/></linearGradient><linearGradient id="g214" gradientUnits="userSpaceOnUse" x1="258.9" y1="2347.1" x2="250.6" y2="2271.9"><stop offset="0" stop-color="#fd64a6"/><stop offset="1" stop-color="#fd5896"/></linearGradient><linearGradient id="g215" gradientUnits="userSpaceOnUse" x1="611.2" y1="2416.3" x2="675.3" y2="2458.2"><stop offset="0" stop-color="#ff9ae2"/><stop offset="1" stop-color="#fa71bd"/></linearGradient><linearGradient id="g216" gradientUnits="userSpaceOnUse" x1="638.9" y1="2403.1" x2="654.3" y2="2449.6"><stop offset="0" stop-color="#ffa9ef"/><stop offset="1" stop-color="#fd71bc"/></linearGradient><linearGradient id="g217" gradientUnits="userSpaceOnUse" x1="601.5" y1="2401.0" x2="604.2" y2="2428.0"><stop offset="0" stop-color="#ffabf1"/><stop offset="1" stop-color="#ff99e3"/></linearGradient><linearGradient id="g218" gradientUnits="userSpaceOnUse" x1="601.7" y1="2405.0" x2="601.6" y2="2364.1"><stop offset="0" stop-color="#ffabf2"/><stop offset="1" stop-color="#ff8ed0"/></linearGradient><linearGradient id="g219" gradientUnits="userSpaceOnUse" x1="553.6" y1="2368.8" x2="565.6" y2="2403.0"><stop offset="0" stop-color="#ff7fc2"/><stop offset="1" stop-color="#ffabf2"/></linearGradient><linearGradient id="g220" gradientUnits="userSpaceOnUse" x1="546.7" y1="2331.3" x2="566.8" y2="2378.5"><stop offset="0" stop-color="#ff63a3"/><stop offset="1" stop-color="#ff8dd0"/></linearGradient><linearGradient id="g221" gradientUnits="userSpaceOnUse" x1="510.6" y1="2341.1" x2="522.5" y2="2380.0"><stop offset="0" stop-color="#ff63a3"/><stop offset="1" stop-color="#ff7ec2"/></linearGradient><linearGradient id="g222" gradientUnits="userSpaceOnUse" x1="518.0" y1="2352.7" x2="509.4" y2="2290.2"><stop offset="0" stop-color="#ff67a8"/><stop offset="1" stop-color="#fd5b99"/></linearGradient><linearGradient id="g223" gradientUnits="userSpaceOnUse" x1="480.4" y1="2356.4" x2="464.1" y2="2305.3"><stop offset="0" stop-color="#ff66a8"/><stop offset="1" stop-color="#fc5b9a"/></linearGradient><linearGradient id="g224" gradientUnits="userSpaceOnUse" x1="467.0" y1="2338.8" x2="473.4" y2="2252.8"><stop offset="0" stop-color="#fd5f9f"/><stop offset="1" stop-color="#fd5996"/></linearGradient><linearGradient id="g225" gradientUnits="userSpaceOnUse" x1="438.0" y1="2332.9" x2="417.7" y2="2269.0"><stop offset="0" stop-color="#fd5f9f"/><stop offset="1" stop-color="#fd5996"/></linearGradient><linearGradient id="g226" gradientUnits="userSpaceOnUse" x1="432.6" y1="2216.2" x2="419.1" y2="2317.4"><stop offset="0" stop-color="#fd5794"/><stop offset="1" stop-color="#fd5c9a"/></linearGradient><linearGradient id="g227" gradientUnits="userSpaceOnUse" x1="370.6" y1="2234.5" x2="396.5" y2="2308.8"><stop offset="0" stop-color="#fd5794"/><stop offset="1" stop-color="#fd5c9a"/></linearGradient><linearGradient id="g228" gradientUnits="userSpaceOnUse" x1="391.2" y1="2179.6" x2="371.5" y2="2295.0"><stop offset="0" stop-color="#fd5793"/><stop offset="1" stop-color="#fd5a97"/></linearGradient><linearGradient id="g229" gradientUnits="userSpaceOnUse" x1="323.2" y1="2200.8" x2="355.4" y2="2284.3"><stop offset="0" stop-color="#fd5793"/><stop offset="1" stop-color="#fd5a97"/></linearGradient><linearGradient id="g230" gradientUnits="userSpaceOnUse" x1="656.0" y1="2389.9" x2="709.8" y2="2444.7"><stop offset="0" stop-color="#ffaaed"/><stop offset="1" stop-color="#fc61a8"/></linearGradient><linearGradient id="g231" gradientUnits="userSpaceOnUse" x1="657.8" y1="2419.5" x2="701.4" y2="2387.6"><stop offset="0" stop-color="#fea9ef"/><stop offset="1" stop-color="#fe64a5"/></linearGradient><linearGradient id="g232" gradientUnits="userSpaceOnUse" x1="635.9" y1="2397.9" x2="652.1" y2="2355.8"><stop offset="0" stop-color="#ffa9ee"/><stop offset="1" stop-color="#ff67a7"/></linearGradient><linearGradient id="g233" gradientUnits="userSpaceOnUse" x1="613.9" y1="2377.1" x2="660.4" y2="2330.3"><stop offset="0" stop-color="#ff8dd0"/><stop offset="1" stop-color="#ff60a0"/></linearGradient><linearGradient id="g234" gradientUnits="userSpaceOnUse" x1="597.5" y1="2318.0" x2="604.0" y2="2363.6"><stop offset="0" stop-color="#ff60a0"/><stop offset="1" stop-color="#ff8ed0"/></linearGradient><linearGradient id="g235" gradientUnits="userSpaceOnUse" x1="595.9" y1="2330.5" x2="602.9" y2="2255.2"><stop offset="0" stop-color="#ff63a3"/><stop offset="1" stop-color="#fd5a98"/></linearGradient><linearGradient id="g236" gradientUnits="userSpaceOnUse" x1="566.4" y1="2324.0" x2="549.7" y2="2269.6"><stop offset="0" stop-color="#ff63a3"/><stop offset="1" stop-color="#fd5a98"/></linearGradient><linearGradient id="g237" gradientUnits="userSpaceOnUse" x1="555.2" y1="2289.7" x2="555.2" y2="2197.8"><stop offset="0" stop-color="#fd5b99"/><stop offset="1" stop-color="#fd5895"/></linearGradient><linearGradient id="g238" gradientUnits="userSpaceOnUse" x1="526.7" y1="2284.6" x2="501.5" y2="2217.7"><stop offset="0" stop-color="#fd5b99"/><stop offset="1" stop-color="#fd5895"/></linearGradient><linearGradient id="g239" gradientUnits="userSpaceOnUse" x1="711.6" y1="2412.5" x2="754.5" y2="2386.8"><stop offset="0" stop-color="#fd65a7"/><stop offset="1" stop-color="#fe5c99"/></linearGradient><linearGradient id="g240" gradientUnits="userSpaceOnUse" x1="697.2" y1="2388.6" x2="744.3" y2="2360.8"><stop offset="0" stop-color="#ff66a7"/><stop offset="1" stop-color="#fd5a98"/></linearGradient><linearGradient id="g241" gradientUnits="userSpaceOnUse" x1="671.0" y1="2360.2" x2="698.1" y2="2313.9"><stop offset="0" stop-color="#ff66a7"/><stop offset="1" stop-color="#fd5a98"/></linearGradient><linearGradient id="g242" gradientUnits="userSpaceOnUse" x1="650.5" y1="2322.9" x2="706.7" y2="2278.7"><stop offset="0" stop-color="#ff609f"/><stop offset="1" stop-color="#fd5996"/></linearGradient><linearGradient id="g243" gradientUnits="userSpaceOnUse" x1="638.8" y1="2311.6" x2="642.1" y2="2246.1"><stop offset="0" stop-color="#ff609f"/><stop offset="1" stop-color="#fd5996"/></linearGradient><linearGradient id="g244" gradientUnits="userSpaceOnUse" x1="606.0" y1="2253.2" x2="591.2" y2="2174.7"><stop offset="0" stop-color="#fd5a98"/><stop offset="1" stop-color="#fd5794"/></linearGradient><linearGradient id="g245" gradientUnits="userSpaceOnUse" x1="789.2" y1="2367.8" x2="755.2" y2="2390.8"><stop offset="0" stop-color="#fd5895"/><stop offset="1" stop-color="#fd5b9a"/></linearGradient><linearGradient id="g246" gradientUnits="userSpaceOnUse" x1="787.0" y1="2331.0" x2="736.5" y2="2353.3"><stop offset="0" stop-color="#fd5794"/><stop offset="1" stop-color="#fd5a98"/></linearGradient><linearGradient id="g247" gradientUnits="userSpaceOnUse" x1="744.3" y1="2266.7" x2="705.1" y2="2312.2"><stop offset="0" stop-color="#fd5794"/><stop offset="1" stop-color="#fd5a98"/></linearGradient><linearGradient id="g248" gradientUnits="userSpaceOnUse" x1="1781.2" y1="2332.5" x2="1772.6" y2="2364.8"><stop offset="0" stop-color="#ff7dc7"/><stop offset="1" stop-color="#fb81cf"/></linearGradient><linearGradient id="g249" gradientUnits="userSpaceOnUse" x1="1777.4" y1="2331.5" x2="1768.8" y2="2363.8"><stop offset="0" stop-color="#ff7dc7"/><stop offset="1" stop-color="#fb81cf"/></linearGradient><linearGradient id="g250" gradientUnits="userSpaceOnUse" x1="1737.5" y1="2321.0" x2="1729.0" y2="2353.2"><stop offset="0" stop-color="#ff7dc7"/><stop offset="1" stop-color="#fb81cf"/></linearGradient><linearGradient id="g251" gradientUnits="userSpaceOnUse" x1="1733.7" y1="2320.0" x2="1725.2" y2="2352.2"><stop offset="0" stop-color="#ff7dc7"/><stop offset="1" stop-color="#fb81cf"/></linearGradient><linearGradient id="g252" gradientUnits="userSpaceOnUse" x1="1693.9" y1="2309.4" x2="1685.3" y2="2341.6"><stop offset="0" stop-color="#ff7dc7"/><stop offset="1" stop-color="#fb81cf"/></linearGradient><linearGradient id="g253" gradientUnits="userSpaceOnUse" x1="1690.1" y1="2308.4" x2="1681.5" y2="2340.6"><stop offset="0" stop-color="#ff7dc7"/><stop offset="1" stop-color="#fb81cf"/></linearGradient><linearGradient id="g254" gradientUnits="userSpaceOnUse" x1="1650.2" y1="2297.8" x2="1641.7" y2="2330.0"><stop offset="0" stop-color="#ff7dc7"/><stop offset="1" stop-color="#fb81cf"/></linearGradient><linearGradient id="g255" gradientUnits="userSpaceOnUse" x1="1646.4" y1="2296.8" x2="1637.9" y2="2329.0"><stop offset="0" stop-color="#ff7dc7"/><stop offset="1" stop-color="#fb81cf"/></linearGradient><linearGradient id="g256" gradientUnits="userSpaceOnUse" x1="1606.6" y1="2286.2" x2="1598.0" y2="2318.5"><stop offset="0" stop-color="#ff7dc7"/><stop offset="1" stop-color="#fb81cf"/></linearGradient><linearGradient id="g257" gradientUnits="userSpaceOnUse" x1="1602.8" y1="2285.2" x2="1594.2" y2="2317.5"><stop offset="0" stop-color="#ff7dc7"/><stop offset="1" stop-color="#fb81cf"/></linearGradient><linearGradient id="g258" gradientUnits="userSpaceOnUse" x1="1562.9" y1="2274.6" x2="1554.4" y2="2306.9"><stop offset="0" stop-color="#ff7dc7"/><stop offset="1" stop-color="#fb81cf"/></linearGradient><linearGradient id="g259" gradientUnits="userSpaceOnUse" x1="1812.3" y1="2340.8" x2="1824.3" y2="2295.5"><stop offset="0" stop-color="#ff7dc7"/><stop offset="1" stop-color="#fd6cb1"/></linearGradient><linearGradient id="g260" gradientUnits="userSpaceOnUse" x1="1807.3" y1="2339.5" x2="1819.4" y2="2294.1"><stop offset="0" stop-color="#ff7dc7"/><stop offset="1" stop-color="#fd6cb1"/></linearGradient><linearGradient id="g261" gradientUnits="userSpaceOnUse" x1="1768.6" y1="2329.2" x2="1780.7" y2="2283.9"><stop offset="0" stop-color="#ff7dc7"/><stop offset="1" stop-color="#fd6cb1"/></linearGradient><linearGradient id="g262" gradientUnits="userSpaceOnUse" x1="1763.7" y1="2327.9" x2="1775.7" y2="2282.6"><stop offset="0" stop-color="#ff7dc7"/><stop offset="1" stop-color="#fd6cb1"/></linearGradient><linearGradient id="g263" gradientUnits="userSpaceOnUse" x1="1725.0" y1="2317.6" x2="1737.0" y2="2272.3"><stop offset="0" stop-color="#ff7dc7"/><stop offset="1" stop-color="#fd6cb1"/></linearGradient><linearGradient id="g264" gradientUnits="userSpaceOnUse" x1="1720.0" y1="2316.3" x2="1732.1" y2="2271.0"><stop offset="0" stop-color="#ff7dc7"/><stop offset="1" stop-color="#fd6cb1"/></linearGradient><linearGradient id="g265" gradientUnits="userSpaceOnUse" x1="1681.3" y1="2306.1" x2="1693.4" y2="2260.7"><stop offset="0" stop-color="#ff7dc7"/><stop offset="1" stop-color="#fd6cb1"/></linearGradient><linearGradient id="g266" gradientUnits="userSpaceOnUse" x1="1676.4" y1="2304.8" x2="1688.4" y2="2259.4"><stop offset="0" stop-color="#ff7dc7"/><stop offset="1" stop-color="#fd6cb1"/></linearGradient><linearGradient id="g267" gradientUnits="userSpaceOnUse" x1="1637.7" y1="2294.5" x2="1649.7" y2="2249.1"><stop offset="0" stop-color="#ff7dc7"/><stop offset="1" stop-color="#fd6cb1"/></linearGradient><linearGradient id="g268" gradientUnits="userSpaceOnUse" x1="1851.6" y1="2302.7" x2="1868.2" y2="2240.3"><stop offset="0" stop-color="#fd6cb1"/><stop offset="1" stop-color="#fc60a0"/></linearGradient><linearGradient id="g269" gradientUnits="userSpaceOnUse" x1="1845.2" y1="2301.0" x2="1861.7" y2="2238.6"><stop offset="0" stop-color="#fd6cb1"/><stop offset="1" stop-color="#fc60a0"/></linearGradient><linearGradient id="g270" gradientUnits="userSpaceOnUse" x1="1808.0" y1="2291.1" x2="1824.5" y2="2228.7"><stop offset="0" stop-color="#fd6cb1"/><stop offset="1" stop-color="#fc60a0"/></linearGradient><linearGradient id="g271" gradientUnits="userSpaceOnUse" x1="1801.5" y1="2289.4" x2="1818.1" y2="2227.0"><stop offset="0" stop-color="#fd6cb1"/><stop offset="1" stop-color="#fc60a0"/></linearGradient><linearGradient id="g272" gradientUnits="userSpaceOnUse" x1="1764.3" y1="2279.5" x2="1780.9" y2="2217.1"><stop offset="0" stop-color="#fd6cb1"/><stop offset="1" stop-color="#fc60a0"/></linearGradient><linearGradient id="g273" gradientUnits="userSpaceOnUse" x1="1757.9" y1="2277.8" x2="1774.4" y2="2215.4"><stop offset="0" stop-color="#fd6cb1"/><stop offset="1" stop-color="#fc60a0"/></linearGradient><linearGradient id="g274" gradientUnits="userSpaceOnUse" x1="1720.7" y1="2268.0" x2="1737.2" y2="2205.6"><stop offset="0" stop-color="#fd6cb1"/><stop offset="1" stop-color="#fc60a0"/></linearGradient><linearGradient id="g275" gradientUnits="userSpaceOnUse" x1="1912.7" y1="2162.9" x2="1890.6" y2="2246.3"><stop offset="0" stop-color="#fd5a98"/><stop offset="1" stop-color="#fc60a0"/></linearGradient><linearGradient id="g276" gradientUnits="userSpaceOnUse" x1="1904.4" y1="2160.7" x2="1882.3" y2="2244.0"><stop offset="0" stop-color="#fd5a98"/><stop offset="1" stop-color="#fc60a0"/></linearGradient><linearGradient id="g277" gradientUnits="userSpaceOnUse" x1="1869.1" y1="2151.3" x2="1846.9" y2="2234.7"><stop offset="0" stop-color="#fd5a98"/><stop offset="1" stop-color="#fc60a0"/></linearGradient><linearGradient id="g278" gradientUnits="userSpaceOnUse" x1="1860.8" y1="2149.1" x2="1838.6" y2="2232.5"><stop offset="0" stop-color="#fd5a98"/><stop offset="1" stop-color="#fc60a0"/></linearGradient><linearGradient id="g279" gradientUnits="userSpaceOnUse" x1="1825.4" y1="2139.7" x2="1803.3" y2="2223.1"><stop offset="0" stop-color="#fd5a98"/><stop offset="1" stop-color="#fc60a0"/></linearGradient><linearGradient id="g280" gradientUnits="userSpaceOnUse" x1="1958.0" y1="2059.0" x2="1929.2" y2="2167.3"><stop offset="0" stop-color="#fd5794"/><stop offset="1" stop-color="#fd5a98"/></linearGradient><linearGradient id="g281" gradientUnits="userSpaceOnUse" x1="1947.4" y1="2056.2" x2="1918.7" y2="2164.5"><stop offset="0" stop-color="#fd5794"/><stop offset="1" stop-color="#fd5a98"/></linearGradient><linearGradient id="g282" gradientUnits="userSpaceOnUse" x1="1914.3" y1="2047.4" x2="1885.6" y2="2155.7"><stop offset="0" stop-color="#fd5794"/><stop offset="1" stop-color="#fd5a98"/></linearGradient></defs>
<rect width="2083" height="2629" fill="#fff"/>
<g id="panel-e">
<path d="M769.8 685.8 L329.2 568.8 M975.3 623.7 L534.7 506.7 M344.0 689.3 L755.0 565.2 M123.7 630.8 L534.7 506.7 M329.2 568.8 L329.2 144.7 M534.7 506.7 L534.7 82.6 M755.0 565.2 L755.0 141.1 M975.3 623.7 L975.3 199.6 M123.7 560.1 L534.7 436.0 L975.3 553.0 M123.7 489.4 L534.7 365.3 L975.3 482.3 M123.7 418.8 L534.7 294.7 L975.3 411.7 M123.7 348.1 L534.7 224.0 L975.3 341.0 M123.7 277.4 L534.7 153.3 L975.3 270.3 M123.7 206.7 L534.7 82.6 L975.3 199.6" stroke="#e2e2e2" stroke-width="1.8" fill="none"/>
<path d="M123.7 630.8 L564.3 747.8 L975.3 623.7" stroke="#505050" stroke-width="1.5" fill="none"/>
<path d="M123.7 630.8 L123.7 206.7 M564.3 747.8 L576.9 751.1 M769.8 685.8 L782.4 689.1 M975.3 623.7 L987.9 627.0 M564.3 747.8 L551.9 751.6 M344.0 689.3 L331.6 693.1 M123.7 630.8 L111.3 634.6 M123.7 630.8 L111.1 627.5 M123.7 560.1 L111.1 556.8 M123.7 489.4 L111.1 486.1 M123.7 418.8 L111.1 415.4 M123.7 348.1 L111.1 344.7 M123.7 277.4 L111.1 274.0 M123.7 206.7 L111.1 203.4" stroke="#7c7c7c" stroke-width="1.8" fill="none"/>
<g stroke="#30081c" stroke-width="1.15" stroke-linejoin="round">
<path d="M934.2 610.7 L975.3 623.7 L890.1 624.4 Z" fill="#d04473"/>
<path d="M849.0 614.2 L890.1 624.4 L805.0 625.1 Z" fill="#d04473"/>
<path d="M763.9 617.7 L805.0 625.1 L719.8 625.8 Z" fill="#d04473"/>
<path d="M678.7 621.3 L719.8 625.8 L634.7 626.5 Z" fill="#d04473"/>
<path d="M593.6 624.8 L634.7 626.5 L549.5 627.2 Z" fill="#d04473"/>
<path d="M508.4 628.4 L549.5 627.2 L464.3 628.0 Z" fill="url(#g27)"/>
<path d="M423.2 631.9 L464.3 628.0 L379.2 628.7 Z" fill="url(#g26)"/>
<path d="M338.1 635.4 L379.2 628.7 L294.0 629.4 Z" fill="url(#g24)"/>
<path d="M252.9 639.0 L294.0 629.4 L208.9 630.1 Z" fill="#fa82cf"/>
<path d="M934.2 610.7 L890.1 624.4 L849.0 614.2 Z" fill="#d04473"/>
<path d="M167.8 642.5 L208.9 630.1 L123.7 630.8 Z" fill="#fa82d0"/>
<path d="M849.0 614.2 L805.0 625.1 L763.9 617.7 Z" fill="#d04473"/>
<path d="M763.9 617.7 L719.8 625.8 L678.7 621.3 Z" fill="#d04473"/>
<path d="M678.7 621.3 L634.7 626.5 L593.6 624.8 Z" fill="#d04473"/>
<path d="M593.6 624.8 L549.5 627.2 L508.4 628.4 Z" fill="#d04473"/>
<path d="M508.4 628.4 L464.3 628.0 L423.2 631.9 Z" fill="url(#g25)"/>
<path d="M423.2 631.9 L379.2 628.7 L338.1 635.4 Z" fill="url(#g23)"/>
<path d="M338.1 635.4 L294.0 629.4 L252.9 639.0 Z" fill="url(#g22)"/>
<path d="M252.9 639.0 L208.9 630.1 L167.8 642.5 Z" fill="#fa81cf"/>
<path d="M211.8 654.2 L252.9 639.0 L167.8 642.5 Z" fill="url(#g12)"/>
<path d="M297.0 642.2 L338.1 635.4 L252.9 639.0 Z" fill="url(#g21)"/>
<path d="M382.1 630.2 L423.2 631.9 L338.1 635.4 Z" fill="#d04473"/>
<path d="M467.3 618.1 L508.4 628.4 L423.2 631.9 Z" fill="#d04473"/>
<path d="M552.5 606.1 L593.6 624.8 L508.4 628.4 Z" fill="#d04473"/>
<path d="M637.6 594.1 L678.7 621.3 L593.6 624.8 Z" fill="#d04473"/>
<path d="M722.8 582.1 L763.9 617.7 L678.7 621.3 Z" fill="#d04473"/>
<path d="M807.9 570.1 L849.0 614.2 L763.9 617.7 Z" fill="#d04473"/>
<path d="M893.1 558.0 L934.2 610.7 L849.0 614.2 Z" fill="#d04473"/>
<path d="M297.0 642.2 L252.9 639.0 L211.8 654.2 Z" fill="url(#g11)"/>
<path d="M382.1 630.2 L338.1 635.4 L297.0 642.2 Z" fill="url(#g20)"/>
<path d="M467.3 618.1 L423.2 631.9 L382.1 630.2 Z" fill="#d04473"/>
<path d="M552.5 606.1 L508.4 628.4 L467.3 618.1 Z" fill="#d04473"/>
<path d="M637.6 594.1 L593.6 624.8 L552.5 606.1 Z" fill="#d04473"/>
<path d="M722.8 582.1 L678.7 621.3 L637.6 594.1 Z" fill="#d04473"/>
<path d="M807.9 570.1 L763.9 617.7 L722.8 582.1 Z" fill="#d04473"/>
<path d="M893.1 558.0 L849.0 614.2 L807.9 570.1 Z" fill="#d04473"/>
<path d="M255.9 665.9 L297.0 642.2 L211.8 654.2 Z" fill="url(#g10)"/>
<path d="M341.0 639.7 L382.1 630.2 L297.0 642.2 Z" fill="url(#g19)"/>
<path d="M426.2 613.6 L467.3 618.1 L382.1 630.2 Z" fill="#d04473"/>
<path d="M341.0 639.7 L297.0 642.2 L255.9 665.9 Z" fill="url(#g9)"/>
<path d="M511.4 587.4 L552.5 606.1 L467.3 618.1 Z" fill="#d04473"/>
<path d="M596.5 561.3 L637.6 594.1 L552.5 606.1 Z" fill="#d04473"/>
<path d="M426.2 613.6 L382.1 630.2 L341.0 639.7 Z" fill="#d04473"/>
<path d="M681.7 535.1 L722.8 582.1 L637.6 594.1 Z" fill="#d04473"/>
<path d="M511.4 587.4 L467.3 618.1 L426.2 613.6 Z" fill="#d04473"/>
<path d="M766.8 509.0 L807.9 570.1 L722.8 582.1 Z" fill="#d04473"/>
<path d="M852.0 482.8 L893.1 558.0 L807.9 570.1 Z" fill="#d04473"/>
<path d="M299.9 677.6 L341.0 639.7 L255.9 665.9 Z" fill="url(#g8)"/>
<path d="M596.5 561.3 L552.5 606.1 L511.4 587.4 Z" fill="#d04473"/>
<path d="M681.7 535.1 L637.6 594.1 L596.5 561.3 Z" fill="#d04473"/>
<path d="M385.1 631.7 L426.2 613.6 L341.0 639.7 Z" fill="url(#g18)"/>
<path d="M766.8 509.0 L722.8 582.1 L681.7 535.1 Z" fill="#d04473"/>
<path d="M385.1 631.7 L341.0 639.7 L299.9 677.6 Z" fill="url(#g7)"/>
<path d="M852.0 482.8 L807.9 570.1 L766.8 509.0 Z" fill="#d04473"/>
<path d="M470.3 585.7 L511.4 587.4 L426.2 613.6 Z" fill="#d04473"/>
<path d="M470.3 585.7 L426.2 613.6 L385.1 631.7 Z" fill="#d04473"/>
<path d="M344.0 689.3 L385.1 631.7 L299.9 677.6 Z" fill="url(#g6)"/>
<path d="M555.4 539.8 L596.5 561.3 L511.4 587.4 Z" fill="#d04473"/>
<path d="M555.4 539.8 L511.4 587.4 L470.3 585.7 Z" fill="#d04473"/>
<path d="M640.6 493.8 L681.7 535.1 L596.5 561.3 Z" fill="#d04473"/>
<path d="M429.2 617.9 L385.1 631.7 L344.0 689.3 Z" fill="url(#g5)"/>
<path d="M429.2 617.9 L470.3 585.7 L385.1 631.7 Z" fill="url(#g17)"/>
<path d="M725.7 447.9 L766.8 509.0 L681.7 535.1 Z" fill="#d04473"/>
<path d="M640.6 493.8 L596.5 561.3 L555.4 539.8 Z" fill="#d04473"/>
<path d="M388.1 701.0 L429.2 617.9 L344.0 689.3 Z" fill="url(#g4)"/>
<path d="M810.9 401.9 L852.0 482.8 L766.8 509.0 Z" fill="#d04473"/>
<path d="M725.7 447.9 L681.7 535.1 L640.6 493.8 Z" fill="#d04473"/>
<path d="M514.3 546.5 L555.4 539.8 L470.3 585.7 Z" fill="#d04473"/>
<path d="M514.3 546.5 L470.3 585.7 L429.2 617.9 Z" fill="#d04473"/>
<path d="M810.9 401.9 L766.8 509.0 L725.7 447.9 Z" fill="#d04473"/>
<path d="M473.2 598.5 L429.2 617.9 L388.1 701.0 Z" fill="url(#g3)"/>
<path d="M599.5 475.1 L640.6 493.8 L555.4 539.8 Z" fill="#d04473"/>
<path d="M473.2 598.5 L514.3 546.5 L429.2 617.9 Z" fill="url(#g16)"/>
<path d="M599.5 475.1 L555.4 539.8 L514.3 546.5 Z" fill="#d04473"/>
<path d="M432.1 712.7 L473.2 598.5 L388.1 701.0 Z" fill="url(#g2)"/>
<path d="M684.6 403.7 L725.7 447.9 L640.6 493.8 Z" fill="#d04473"/>
<path d="M684.6 403.7 L640.6 493.8 L599.5 475.1 Z" fill="#d04473"/>
<path d="M558.4 496.0 L514.3 546.5 L473.2 598.5 Z" fill="url(#g15)"/>
<path d="M517.3 573.5 L473.2 598.5 L432.1 712.7 Z" fill="url(#g1)"/>
<path d="M558.4 496.0 L599.5 475.1 L514.3 546.5 Z" fill="#d04473"/>
<path d="M769.8 332.3 L810.9 401.9 L725.7 447.9 Z" fill="#d04473"/>
<path d="M476.2 724.4 L517.3 573.5 L432.1 712.7 Z" fill="#fd5693"/>
<path d="M517.3 573.5 L558.4 496.0 L473.2 598.5 Z" fill="url(#g14)"/>
<path d="M769.8 332.3 L725.7 447.9 L684.6 403.7 Z" fill="#d04473"/>
<path d="M643.5 393.5 L684.6 403.7 L599.5 475.1 Z" fill="#d04473"/>
<path d="M643.5 393.5 L599.5 475.1 L558.4 496.0 Z" fill="#d04473"/>
<path d="M561.3 542.7 L517.3 573.5 L476.2 724.4 Z" fill="#fd5693"/>
<path d="M520.2 736.1 L561.3 542.7 L476.2 724.4 Z" fill="#fd5692"/>
<path d="M602.4 434.2 L558.4 496.0 L517.3 573.5 Z" fill="url(#g13)"/>
<path d="M602.4 434.2 L643.5 393.5 L558.4 496.0 Z" fill="#d04473"/>
<path d="M728.7 291.0 L769.8 332.3 L684.6 403.7 Z" fill="#d04473"/>
<path d="M561.3 542.7 L602.4 434.2 L517.3 573.5 Z" fill="#fd5794"/>
<path d="M728.7 291.0 L684.6 403.7 L643.5 393.5 Z" fill="#d04473"/>
<path d="M564.3 747.8 L605.4 506.4 L520.2 736.1 Z" fill="#fd5591"/>
<path d="M605.4 506.4 L561.3 542.7 L520.2 736.1 Z" fill="#fd5692"/>
<path d="M687.6 295.0 L643.5 393.5 L602.4 434.2 Z" fill="#d04473"/>
<path d="M687.6 295.0 L728.7 291.0 L643.5 393.5 Z" fill="#d04473"/>
<path d="M646.5 361.1 L602.4 434.2 L561.3 542.7 Z" fill="#fd5793"/>
<path d="M605.4 506.4 L646.5 361.1 L561.3 542.7 Z" fill="#fd5692"/>
<path d="M646.5 361.1 L687.6 295.0 L602.4 434.2 Z" fill="#d04473"/>
</g>
<g font-family="'Liberation Sans', Arial, sans-serif" font-size="26" fill="#444444">
<text x="101.2" y="635.1" text-anchor="end">0</text>
<text x="101.2" y="563.6" text-anchor="end">0.1</text>
<text x="101.2" y="492.9" text-anchor="end">0.2</text>
<text x="101.2" y="422.2" text-anchor="end">0.3</text>
<text x="101.2" y="351.6" text-anchor="end">0.4</text>
<text x="101.2" y="280.9" text-anchor="end">0.5</text>
<text x="101.2" y="210.2" text-anchor="end">0.6</text>
<text x="535.0" y="781.6" text-anchor="middle">0</text>
<text x="305.3" y="722.0" text-anchor="middle">0.5</text>
<text x="93.9" y="664.3" text-anchor="middle">1</text>
<text x="593.0" y="779.8" text-anchor="middle">0</text>
<text x="808.8" y="717.5" text-anchor="middle">0.5</text>
<text x="1005.2" y="654.7" text-anchor="middle">1</text>
</g>
<g font-family="'Liberation Sans', Arial, sans-serif" font-size="29.5" fill="#444444">
<text x="755.8" y="791.8" text-anchor="middle">X</text>
<text x="364.0" y="795.3" text-anchor="middle">Y</text>
<text transform="translate(48.7 417.8) rotate(-90)" text-anchor="middle">Z</text>
</g>
<g>
<text x="287.4" y="54.3" font-family="'Liberation Sans', Arial, Helvetica, sans-serif" font-weight="bold" font-size="26.5" fill="#141414" text-anchor="start" textLength="392.1" lengthAdjust="spacingAndGlyphs" stroke="#141414" stroke-width="0.5">Triangular Basis Function: T</text>
<text x="679.8" y="42.0" font-family="'Liberation Sans', Arial, Helvetica, sans-serif" font-weight="bold" font-size="21.5" fill="#141414" text-anchor="start" textLength="10.5" lengthAdjust="spacingAndGlyphs" stroke="#141414" stroke-width="0.5">3</text>
<text x="681.0" y="69.9" font-family="'Liberation Sans', Arial, Helvetica, sans-serif" font-weight="bold" font-size="21.5" fill="#141414" text-anchor="start" textLength="34.6" lengthAdjust="spacingAndGlyphs" stroke="#141414" stroke-width="0.5">102</text>
<text x="720.5" y="54.3" font-family="'Liberation Sans', Arial, Helvetica, sans-serif" font-weight="bold" font-size="26.5" fill="#141414" text-anchor="start" textLength="89.3" lengthAdjust="spacingAndGlyphs" stroke="#141414" stroke-width="0.5">(u,v,w)</text>
</g>
<g>
<text x="376.7" y="866.9" font-family="'Liberation Serif', 'Times New Roman', serif" font-weight="bold" font-size="47.5" fill="#000" text-anchor="end" stroke="#000" stroke-width="0.9">(e)</text>
<text x="393.7" y="866.9" font-family="'Liberation Serif', 'Times New Roman', serif" font-weight="bold" font-style="italic" font-size="58" fill="#000" text-anchor="start" textLength="33.0" lengthAdjust="spacingAndGlyphs" stroke="#000" stroke-width="0.9">T</text>
<text x="429.1" y="844.3" font-family="'Liberation Serif', 'Times New Roman', serif" font-weight="bold" font-size="41" fill="#000" text-anchor="start" textLength="20.7" lengthAdjust="spacingAndGlyphs" stroke="#000" stroke-width="0.9">3</text>
<text x="431.7" y="881.0" font-family="'Liberation Serif', 'Times New Roman', serif" font-weight="bold" font-size="41" fill="#000" text-anchor="start" textLength="67.0" lengthAdjust="spacingAndGlyphs" stroke="#000" stroke-width="0.9">102</text>
<text x="509.0" y="867.9" font-family="'Liberation Serif', 'Times New Roman', serif" font-weight="normal" font-size="60" fill="#000" text-anchor="start" textLength="18.0" lengthAdjust="spacingAndGlyphs" stroke="#000" stroke-width="0.5">(</text>
<text x="530.3" y="866.9" font-family="'Liberation Serif', 'Times New Roman', serif" font-weight="bold" font-style="italic" font-size="58" fill="#000" text-anchor="start" textLength="34.1" lengthAdjust="spacingAndGlyphs" stroke="#000" stroke-width="0.9">u</text>
<text x="567.0" y="866.9" font-family="'Liberation Serif', 'Times New Roman', serif" font-weight="bold" font-size="58" fill="#000" text-anchor="start" textLength="10.3" lengthAdjust="spacingAndGlyphs" stroke="#000" stroke-width="0.9">,</text>
<text x="590.2" y="866.9" font-family="'Liberation Serif', 'Times New Roman', serif" font-weight="bold" font-style="italic" font-size="58" fill="#000" text-anchor="start" textLength="32.2" lengthAdjust="spacingAndGlyphs" stroke="#000" stroke-width="0.9">v</text>
<text x="623.6" y="866.9" font-family="'Liberation Serif', 'Times New Roman', serif" font-weight="bold" font-size="58" fill="#000" text-anchor="start" textLength="10.4" lengthAdjust="spacingAndGlyphs" stroke="#000" stroke-width="0.9">,</text>
<text x="646.8" y="866.9" font-family="'Liberation Serif', 'Times New Roman', serif" font-weight="bold" font-style="italic" font-size="58" fill="#000" text-anchor="start" textLength="42.5" lengthAdjust="spacingAndGlyphs" stroke="#000" stroke-width="0.9">w</text>
<text x="692.6" y="867.9" font-family="'Liberation Serif', 'Times New Roman', serif" font-weight="normal" font-size="60" fill="#000" text-anchor="start" textLength="18.0" lengthAdjust="spacingAndGlyphs" stroke="#000" stroke-width="0.5">)</text>
</g>
</g>
<g id="panel-f">
<path d="M1819.6 681.5 L1384.5 565.0 M2022.6 619.4 L1587.5 502.9 M1399.0 685.4 L1805.0 561.1 M1181.5 627.1 L1587.5 502.9 M1384.5 565.0 L1384.5 147.1 M1587.5 502.9 L1587.5 85.0 M1805.0 561.1 L1805.0 143.2 M2022.6 619.4 L2022.6 201.5 M1181.5 543.5 L1587.5 419.3 L2022.6 535.8 M1181.5 459.9 L1587.5 335.7 L2022.6 452.2 M1181.5 376.4 L1587.5 252.2 L2022.6 368.7 M1181.5 292.8 L1587.5 168.6 L2022.6 285.1 M1181.5 209.2 L1587.5 85.0 L2022.6 201.5" stroke="#e2e2e2" stroke-width="1.8" fill="none"/>
<path d="M1181.5 627.1 L1616.6 743.6 L2022.6 619.4" stroke="#505050" stroke-width="1.5" fill="none"/>
<path d="M1181.5 627.1 L1181.5 209.2 M1616.6 743.6 L1629.2 747.0 M1819.6 681.5 L1832.2 684.9 M2022.6 619.4 L2035.2 622.8 M1616.6 743.6 L1604.2 747.4 M1399.0 685.4 L1386.6 689.2 M1181.5 627.1 L1169.1 630.9 M1181.5 627.1 L1168.9 623.7 M1181.5 543.5 L1168.9 540.2 M1181.5 459.9 L1168.9 456.6 M1181.5 376.4 L1168.9 373.0 M1181.5 292.8 L1168.9 289.4 M1181.5 209.2 L1168.9 205.8" stroke="#7c7c7c" stroke-width="1.8" fill="none"/>
<g stroke="#30081c" stroke-width="1.15" stroke-linejoin="round">
<path d="M1982.0 631.8 L2022.6 619.4 L1938.5 620.2 Z" fill="url(#g60)"/>
<path d="M1897.9 552.4 L1938.5 620.2 L1854.4 620.9 Z" fill="#d04473"/>
<path d="M1225.0 638.8 L1265.6 626.3 L1181.5 627.1 Z" fill="url(#g34)"/>
<path d="M1982.0 631.8 L1938.5 620.2 L1897.9 552.4 Z" fill="#d04473"/>
<path d="M1813.8 492.9 L1854.4 620.9 L1770.3 621.7 Z" fill="#d04473"/>
<path d="M1309.1 557.7 L1349.7 625.6 L1265.6 626.3 Z" fill="#d04473"/>
<path d="M1729.7 453.6 L1770.3 621.7 L1686.2 622.5 Z" fill="#d04473"/>
<path d="M1393.2 496.8 L1433.8 624.8 L1349.7 625.6 Z" fill="#d04473"/>
<path d="M1645.6 434.3 L1686.2 622.5 L1602.0 623.2 Z" fill="#d04473"/>
<path d="M1477.3 455.9 L1517.9 624.0 L1433.8 624.8 Z" fill="#d04473"/>
<path d="M1561.5 435.1 L1602.0 623.2 L1517.9 624.0 Z" fill="#d04473"/>
<path d="M1309.1 557.7 L1265.6 626.3 L1225.0 638.8 Z" fill="#d04473"/>
<path d="M1941.4 644.2 L1982.0 631.8 L1897.9 552.4 Z" fill="url(#g59)"/>
<path d="M1897.9 552.4 L1854.4 620.9 L1813.8 492.9 Z" fill="#d04473"/>
<path d="M1393.2 496.8 L1349.7 625.6 L1309.1 557.7 Z" fill="#d04473"/>
<path d="M1268.5 650.4 L1309.1 557.7 L1225.0 638.8 Z" fill="url(#g33)"/>
<path d="M1813.8 492.9 L1770.3 621.7 L1729.7 453.6 Z" fill="#d04473"/>
<path d="M1477.3 455.9 L1433.8 624.8 L1393.2 496.8 Z" fill="#d04473"/>
<path d="M1729.7 453.6 L1686.2 622.5 L1645.6 434.3 Z" fill="#d04473"/>
<path d="M1941.4 644.2 L1897.9 552.4 L1857.3 504.6 Z" fill="url(#g58)"/>
<path d="M1561.5 435.1 L1517.9 624.0 L1477.3 455.9 Z" fill="#d04473"/>
<path d="M1645.6 434.3 L1602.0 623.2 L1561.5 435.1 Z" fill="#d04473"/>
<path d="M1900.8 656.7 L1941.4 644.2 L1857.3 504.6 Z" fill="url(#g57)"/>
<path d="M1857.3 504.6 L1897.9 552.4 L1813.8 492.9 Z" fill="#d04473"/>
<path d="M1352.6 509.2 L1309.1 557.7 L1268.5 650.4 Z" fill="url(#g32)"/>
<path d="M1352.6 509.2 L1393.2 496.8 L1309.1 557.7 Z" fill="#d04473"/>
<path d="M1312.0 662.1 L1352.6 509.2 L1268.5 650.4 Z" fill="url(#g31)"/>
<path d="M1773.2 405.1 L1813.8 492.9 L1729.7 453.6 Z" fill="#d04473"/>
<path d="M1857.3 504.6 L1813.8 492.9 L1773.2 405.1 Z" fill="#d04473"/>
<path d="M1900.8 656.7 L1857.3 504.6 L1816.7 476.9 Z" fill="url(#g55)"/>
<path d="M1860.2 669.1 L1900.8 656.7 L1816.7 476.9 Z" fill="#fd5692"/>
<path d="M1436.7 408.1 L1477.3 455.9 L1393.2 496.8 Z" fill="#d04473"/>
<path d="M1436.7 408.1 L1393.2 496.8 L1352.6 509.2 Z" fill="#d04473"/>
<path d="M1396.1 480.7 L1352.6 509.2 L1312.0 662.1 Z" fill="url(#g30)"/>
<path d="M1355.5 673.7 L1396.1 480.7 L1312.0 662.1 Z" fill="#fd5692"/>
<path d="M1689.1 345.7 L1729.7 453.6 L1645.6 434.3 Z" fill="#d04473"/>
<path d="M1520.8 347.2 L1561.5 435.1 L1477.3 455.9 Z" fill="#d04473"/>
<path d="M1605.0 326.4 L1645.6 434.3 L1561.5 435.1 Z" fill="#d04473"/>
<path d="M1816.7 476.9 L1857.3 504.6 L1773.2 405.1 Z" fill="url(#g56)"/>
<path d="M1773.2 405.1 L1729.7 453.6 L1689.1 345.7 Z" fill="#d04473"/>
<path d="M1520.8 347.2 L1477.3 455.9 L1436.7 408.1 Z" fill="#d04473"/>
<path d="M1396.1 480.7 L1436.7 408.1 L1352.6 509.2 Z" fill="url(#g41)"/>
<path d="M1819.6 681.5 L1860.2 669.1 L1776.1 469.3 Z" fill="#fd5592"/>
<path d="M1860.2 669.1 L1816.7 476.9 L1776.1 469.3 Z" fill="#fd5692"/>
<path d="M1689.1 345.7 L1645.6 434.3 L1605.0 326.4 Z" fill="#d04473"/>
<path d="M1399.0 685.4 L1439.6 472.3 L1355.5 673.7 Z" fill="#fd5592"/>
<path d="M1605.0 326.4 L1561.5 435.1 L1520.8 347.2 Z" fill="#d04473"/>
<path d="M1439.6 472.3 L1396.1 480.7 L1355.5 673.7 Z" fill="#fd5692"/>
<path d="M1816.7 476.9 L1773.2 405.1 L1732.6 357.3 Z" fill="url(#g54)"/>
<path d="M1732.6 357.3 L1773.2 405.1 L1689.1 345.7 Z" fill="#d04473"/>
<path d="M1480.2 359.6 L1436.7 408.1 L1396.1 480.7 Z" fill="url(#g40)"/>
<path d="M1779.0 693.9 L1819.6 681.5 L1735.5 481.7 Z" fill="#fd5592"/>
<path d="M1480.2 359.6 L1520.8 347.2 L1436.7 408.1 Z" fill="#d04473"/>
<path d="M1776.1 469.3 L1816.7 476.9 L1732.6 357.3 Z" fill="url(#g53)"/>
<path d="M1819.6 681.5 L1776.1 469.3 L1735.5 481.7 Z" fill="#fd5692"/>
<path d="M1442.6 697.0 L1483.2 484.0 L1399.0 685.4 Z" fill="#fd5592"/>
<path d="M1439.6 472.3 L1480.2 359.6 L1396.1 480.7 Z" fill="url(#g39)"/>
<path d="M1483.2 484.0 L1439.6 472.3 L1399.0 685.4 Z" fill="#fd5692"/>
<path d="M1648.5 297.9 L1689.1 345.7 L1605.0 326.4 Z" fill="#d04473"/>
<path d="M1564.4 298.7 L1605.0 326.4 L1520.8 347.2 Z" fill="#d04473"/>
<path d="M1732.6 357.3 L1689.1 345.7 L1648.5 297.9 Z" fill="#d04473"/>
<path d="M1738.4 706.3 L1779.0 693.9 L1694.9 514.2 Z" fill="#fd5592"/>
<path d="M1564.4 298.7 L1520.8 347.2 L1480.2 359.6 Z" fill="#d04473"/>
<path d="M1486.1 708.6 L1526.7 515.7 L1442.6 697.0 Z" fill="#fd5592"/>
<path d="M1779.0 693.9 L1735.5 481.7 L1694.9 514.2 Z" fill="#fd5692"/>
<path d="M1776.1 469.3 L1732.6 357.3 L1692.0 349.7 Z" fill="url(#g51)"/>
<path d="M1648.5 297.9 L1605.0 326.4 L1564.4 298.7 Z" fill="#d04473"/>
<path d="M1526.7 515.7 L1483.2 484.0 L1442.6 697.0 Z" fill="#fd5692"/>
<path d="M1735.5 481.7 L1776.1 469.3 L1692.0 349.7 Z" fill="url(#g50)"/>
<path d="M1523.8 351.2 L1480.2 359.6 L1439.6 472.3 Z" fill="url(#g38)"/>
<path d="M1483.2 484.0 L1523.8 351.2 L1439.6 472.3 Z" fill="url(#g37)"/>
<path d="M1692.0 349.7 L1732.6 357.3 L1648.5 297.9 Z" fill="url(#g52)"/>
<path d="M1523.8 351.2 L1564.4 298.7 L1480.2 359.6 Z" fill="url(#g45)"/>
<path d="M1697.8 718.8 L1738.4 706.3 L1654.3 566.7 Z" fill="#fd5692"/>
<path d="M1529.6 720.3 L1570.2 567.5 L1486.1 708.6 Z" fill="#fd5692"/>
<path d="M1738.4 706.3 L1694.9 514.2 L1654.3 566.7 Z" fill="#fd5692"/>
<path d="M1570.2 567.5 L1526.7 515.7 L1486.1 708.6 Z" fill="#fd5692"/>
<path d="M1607.9 310.3 L1648.5 297.9 L1564.4 298.7 Z" fill="url(#g49)"/>
<path d="M1735.5 481.7 L1692.0 349.7 L1651.4 382.2 Z" fill="url(#g46)"/>
<path d="M1694.9 514.2 L1735.5 481.7 L1651.4 382.2 Z" fill="#fd5693"/>
<path d="M1692.0 349.7 L1648.5 297.9 L1607.9 310.3 Z" fill="url(#g48)"/>
<path d="M1607.9 310.3 L1564.4 298.7 L1523.8 351.2 Z" fill="url(#g44)"/>
<path d="M1567.3 382.9 L1523.8 351.2 L1483.2 484.0 Z" fill="url(#g36)"/>
<path d="M1526.7 515.7 L1567.3 382.9 L1483.2 484.0 Z" fill="#fd5693"/>
<path d="M1697.8 718.8 L1654.3 566.7 L1613.7 639.3 Z" fill="#fd5793"/>
<path d="M1657.2 731.2 L1697.8 718.8 L1613.7 639.3 Z" fill="url(#g35)"/>
<path d="M1613.7 639.3 L1570.2 567.5 L1529.6 720.3 Z" fill="#fd5793"/>
<path d="M1573.1 732.0 L1613.7 639.3 L1529.6 720.3 Z" fill="url(#g29)"/>
<path d="M1651.4 382.2 L1692.0 349.7 L1607.9 310.3 Z" fill="url(#g47)"/>
<path d="M1567.3 382.9 L1607.9 310.3 L1523.8 351.2 Z" fill="url(#g43)"/>
<path d="M1654.3 566.7 L1694.9 514.2 L1610.8 454.7 Z" fill="#fd5693"/>
<path d="M1694.9 514.2 L1651.4 382.2 L1610.8 454.7 Z" fill="#fd5793"/>
<path d="M1570.2 567.5 L1610.8 454.7 L1526.7 515.7 Z" fill="#fd5693"/>
<path d="M1613.7 639.3 L1654.3 566.7 L1570.2 567.5 Z" fill="#fd5793"/>
<path d="M1610.8 454.7 L1567.3 382.9 L1526.7 515.7 Z" fill="#fd5794"/>
<path d="M1657.2 731.2 L1613.7 639.3 L1573.1 732.0 Z" fill="#fd5895"/>
<path d="M1654.3 566.7 L1610.8 454.7 L1570.2 567.5 Z" fill="#fd5693"/>
<path d="M1651.4 382.2 L1607.9 310.3 L1567.3 382.9 Z" fill="url(#g42)"/>
<path d="M1610.8 454.7 L1651.4 382.2 L1567.3 382.9 Z" fill="#fd5794"/>
<path d="M1616.6 743.6 L1657.2 731.2 L1573.1 732.0 Z" fill="url(#g28)"/>
</g>
<g font-family="'Liberation Sans', Arial, sans-serif" font-size="26" fill="#444444">
<text x="1159.0" y="631.4" text-anchor="end">0</text>
<text x="1159.0" y="547.0" text-anchor="end">0.05</text>
<text x="1159.0" y="463.4" text-anchor="end">0.1</text>
<text x="1159.0" y="379.9" text-anchor="end">0.15</text>
<text x="1159.0" y="296.3" text-anchor="end">0.2</text>
<text x="1159.0" y="212.7" text-anchor="end">0.25</text>
<text x="1587.3" y="777.4" text-anchor="middle">0</text>
<text x="1360.3" y="718.1" text-anchor="middle">0.5</text>
<text x="1151.7" y="660.6" text-anchor="middle">1</text>
<text x="1645.3" y="775.6" text-anchor="middle">0</text>
<text x="1858.6" y="713.3" text-anchor="middle">0.5</text>
<text x="2052.5" y="650.4" text-anchor="middle">1</text>
</g>
<g font-family="'Liberation Sans', Arial, sans-serif" font-size="29.5" fill="#444444">
<text x="1805.6" y="787.5" text-anchor="middle">X</text>
<text x="1419.0" y="791.4" text-anchor="middle">Y</text>
<text transform="translate(1092.5 417.1) rotate(-90)" text-anchor="middle">Z</text>
</g>
<g>
<text x="1341.1" y="58.8" font-family="'Liberation Sans', Arial, Helvetica, sans-serif" font-weight="bold" font-size="26.5" fill="#141414" text-anchor="start" textLength="392.1" lengthAdjust="spacingAndGlyphs" stroke="#141414" stroke-width="0.5">Triangular Basis Function: T</text>
<text x="1733.5" y="46.5" font-family="'Liberation Sans', Arial, Helvetica, sans-serif" font-weight="bold" font-size="21.5" fill="#141414" text-anchor="start" textLength="10.5" lengthAdjust="spacingAndGlyphs" stroke="#141414" stroke-width="0.5">3</text>
<text x="1734.7" y="74.4" font-family="'Liberation Sans', Arial, Helvetica, sans-serif" font-weight="bold" font-size="21.5" fill="#141414" text-anchor="start" textLength="34.6" lengthAdjust="spacingAndGlyphs" stroke="#141414" stroke-width="0.5">111</text>
<text x="1774.2" y="58.8" font-family="'Liberation Sans', Arial, Helvetica, sans-serif" font-weight="bold" font-size="26.5" fill="#141414" text-anchor="start" textLength="89.3" lengthAdjust="spacingAndGlyphs" stroke="#141414" stroke-width="0.5">(u,v,w)</text>
</g>
<g>
<text x="1420.6" y="866.9" font-family="'Liberation Serif', 'Times New Roman', serif" font-weight="bold" font-size="47.5" fill="#000" text-anchor="end" stroke="#000" stroke-width="0.9">(f)</text>
<text x="1437.6" y="866.9" font-family="'Liberation Serif', 'Times New Roman', serif" font-weight="bold" font-style="italic" font-size="58" fill="#000" text-anchor="start" textLength="33.0" lengthAdjust="spacingAndGlyphs" stroke="#000" stroke-width="0.9">T</text>
<text x="1473.0" y="844.3" font-family="'Liberation Serif', 'Times New Roman', serif" font-weight="bold" font-size="41" fill="#000" text-anchor="start" textLength="20.7" lengthAdjust="spacingAndGlyphs" stroke="#000" stroke-width="0.9">3</text>
<text x="1475.6" y="881.0" font-family="'Liberation Serif', 'Times New Roman', serif" font-weight="bold" font-size="41" fill="#000" text-anchor="start" textLength="67.0" lengthAdjust="spacingAndGlyphs" stroke="#000" stroke-width="0.9">111</text>
<text x="1552.9" y="867.9" font-family="'Liberation Serif', 'Times New Roman', serif" font-weight="normal" font-size="60" fill="#000" text-anchor="start" textLength="18.0" lengthAdjust="spacingAndGlyphs" stroke="#000" stroke-width="0.5">(</text>
<text x="1574.2" y="866.9" font-family="'Liberation Serif', 'Times New Roman', serif" font-weight="bold" font-style="italic" font-size="58" fill="#000" text-anchor="start" textLength="34.1" lengthAdjust="spacingAndGlyphs" stroke="#000" stroke-width="0.9">u</text>
<text x="1610.9" y="866.9" font-family="'Liberation Serif', 'Times New Roman', serif" font-weight="bold" font-size="58" fill="#000" text-anchor="start" textLength="10.3" lengthAdjust="spacingAndGlyphs" stroke="#000" stroke-width="0.9">,</text>
<text x="1634.1" y="866.9" font-family="'Liberation Serif', 'Times New Roman', serif" font-weight="bold" font-style="italic" font-size="58" fill="#000" text-anchor="start" textLength="32.2" lengthAdjust="spacingAndGlyphs" stroke="#000" stroke-width="0.9">v</text>
<text x="1667.5" y="866.9" font-family="'Liberation Serif', 'Times New Roman', serif" font-weight="bold" font-size="58" fill="#000" text-anchor="start" textLength="10.4" lengthAdjust="spacingAndGlyphs" stroke="#000" stroke-width="0.9">,</text>
<text x="1690.7" y="866.9" font-family="'Liberation Serif', 'Times New Roman', serif" font-weight="bold" font-style="italic" font-size="58" fill="#000" text-anchor="start" textLength="42.5" lengthAdjust="spacingAndGlyphs" stroke="#000" stroke-width="0.9">w</text>
<text x="1736.5" y="867.9" font-family="'Liberation Serif', 'Times New Roman', serif" font-weight="normal" font-size="60" fill="#000" text-anchor="start" textLength="18.0" lengthAdjust="spacingAndGlyphs" stroke="#000" stroke-width="0.5">)</text>
</g>
</g>
<g id="panel-g">
<path d="M769.0 1550.0 L331.2 1432.9 M972.7 1487.0 L535.0 1369.8 M346.4 1554.5 L753.9 1428.4 M127.5 1495.9 L535.0 1369.8 M331.2 1432.9 L331.2 1007.5 M535.0 1369.8 L535.0 944.4 M753.9 1428.4 L753.9 1003.0 M972.7 1487.0 L972.7 1061.6 M127.5 1425.0 L535.0 1298.9 L972.7 1416.1 M127.5 1354.1 L535.0 1228.0 L972.7 1345.2 M127.5 1283.2 L535.0 1157.1 L972.7 1274.3 M127.5 1212.3 L535.0 1086.2 L972.7 1203.4 M127.5 1141.4 L535.0 1015.3 L972.7 1132.5 M127.5 1070.5 L535.0 944.4 L972.7 1061.6" stroke="#e2e2e2" stroke-width="1.8" fill="none"/>
<path d="M127.5 1495.9 L565.2 1613.1 L972.7 1487.0" stroke="#505050" stroke-width="1.5" fill="none"/>
<path d="M127.5 1495.9 L127.5 1070.5 M565.2 1613.1 L577.8 1616.5 M769.0 1550.0 L781.5 1553.4 M972.7 1487.0 L985.3 1490.4 M565.2 1613.1 L552.8 1616.9 M346.4 1554.5 L333.9 1558.3 M127.5 1495.9 L115.1 1499.7 M127.5 1495.9 L114.9 1492.5 M127.5 1425.0 L114.9 1421.6 M127.5 1354.1 L114.9 1350.7 M127.5 1283.2 L114.9 1279.8 M127.5 1212.3 L114.9 1208.9 M127.5 1141.4 L114.9 1138.0 M127.5 1070.5 L114.9 1067.1" stroke="#7c7c7c" stroke-width="1.8" fill="none"/>
<g stroke="#30081c" stroke-width="1.15" stroke-linejoin="round">
<path d="M932.0 1499.6 L972.7 1487.0 L888.2 1462.4 Z" fill="url(#g126)"/>
<path d="M719.1 1311.0 L888.2 1462.4 L972.7 1487.0 Z" fill="#fd5591"/>
<path d="M932.0 1499.6 L888.2 1462.4 L847.4 1477.8 Z" fill="url(#g124)"/>
<path d="M847.4 1477.8 L888.2 1462.4 L803.7 1398.0 Z" fill="url(#g125)"/>
<path d="M719.1 1311.0 L803.7 1398.0 L888.2 1462.4 Z" fill="#fd5591"/>
<path d="M891.2 1512.2 L932.0 1499.6 L847.4 1477.8 Z" fill="url(#g123)"/>
<path d="M847.4 1477.8 L803.7 1398.0 L762.9 1422.0 Z" fill="url(#g121)"/>
<path d="M891.2 1512.2 L847.4 1477.8 L806.7 1493.3 Z" fill="url(#g119)"/>
<path d="M806.7 1493.3 L847.4 1477.8 L762.9 1422.0 Z" fill="url(#g120)"/>
<path d="M171.3 1507.6 L212.0 1265.3 L127.5 1495.9 Z" fill="#fd5591"/>
<path d="M762.9 1422.0 L803.7 1398.0 L719.1 1311.0 Z" fill="url(#g122)"/>
<path d="M850.5 1524.8 L891.2 1512.2 L806.7 1493.3 Z" fill="url(#g118)"/>
<path d="M806.7 1493.3 L762.9 1422.0 L722.2 1445.9 Z" fill="url(#g115)"/>
<path d="M762.9 1422.0 L719.1 1311.0 L678.4 1349.1 Z" fill="url(#g117)"/>
<path d="M215.0 1519.3 L255.8 1325.2 L171.3 1507.6 Z" fill="#fd5592"/>
<path d="M722.2 1445.9 L762.9 1422.0 L678.4 1349.1 Z" fill="url(#g116)"/>
<path d="M850.5 1524.8 L806.7 1493.3 L765.9 1508.7 Z" fill="url(#g113)"/>
<path d="M765.9 1508.7 L806.7 1493.3 L722.2 1445.9 Z" fill="url(#g114)"/>
<path d="M255.8 1325.2 L212.0 1265.3 L171.3 1507.6 Z" fill="#fd5591"/>
<path d="M678.4 1349.1 L719.1 1311.0 L634.6 1218.3 Z" fill="#fd5793"/>
<path d="M722.2 1445.9 L678.4 1349.1 L637.6 1387.3 Z" fill="url(#g111)"/>
<path d="M765.9 1508.7 L722.2 1445.9 L681.4 1469.9 Z" fill="url(#g109)"/>
<path d="M809.7 1537.4 L850.5 1524.8 L765.9 1508.7 Z" fill="url(#g112)"/>
<path d="M258.8 1531.1 L299.6 1379.5 L215.0 1519.3 Z" fill="#fd5692"/>
<path d="M299.6 1379.5 L255.8 1325.2 L215.0 1519.3 Z" fill="#fd5692"/>
<path d="M681.4 1469.9 L722.2 1445.9 L637.6 1387.3 Z" fill="url(#g110)"/>
<path d="M678.4 1349.1 L634.6 1218.3 L593.9 1276.3 Z" fill="#fd5793"/>
<path d="M637.6 1387.3 L678.4 1349.1 L593.9 1276.3 Z" fill="#fd5895"/>
<path d="M725.2 1524.1 L765.9 1508.7 L681.4 1469.9 Z" fill="url(#g108)"/>
<path d="M809.7 1537.4 L765.9 1508.7 L725.2 1524.1 Z" fill="url(#g107)"/>
<path d="M681.4 1469.9 L637.6 1387.3 L596.9 1425.4 Z" fill="url(#g104)"/>
<path d="M343.3 1428.1 L299.6 1379.5 L258.8 1531.1 Z" fill="#fd5693"/>
<path d="M302.6 1542.8 L343.3 1428.1 L258.8 1531.1 Z" fill="#fd5794"/>
<path d="M637.6 1387.3 L593.9 1276.3 L553.1 1334.3 Z" fill="#fd5895"/>
<path d="M255.8 1325.2 L296.5 1131.1 L212.0 1265.3 Z" fill="#fd5592"/>
<path d="M725.2 1524.1 L681.4 1469.9 L640.7 1493.8 Z" fill="url(#g102)"/>
<path d="M593.9 1276.3 L634.6 1218.3 L550.1 1136.9 Z" fill="#fd5693"/>
<path d="M596.9 1425.4 L637.6 1387.3 L553.1 1334.3 Z" fill="url(#g105)"/>
<path d="M640.7 1493.8 L681.4 1469.9 L596.9 1425.4 Z" fill="url(#g103)"/>
<path d="M769.0 1550.0 L809.7 1537.4 L725.2 1524.1 Z" fill="url(#g106)"/>
<path d="M299.6 1379.5 L340.3 1227.9 L255.8 1325.2 Z" fill="#fd5692"/>
<path d="M553.1 1334.3 L593.9 1276.3 L509.4 1220.5 Z" fill="#fd5794"/>
<path d="M343.3 1428.1 L384.1 1313.4 L299.6 1379.5 Z" fill="#fd5793"/>
<path d="M593.9 1276.3 L550.1 1136.9 L509.4 1220.5 Z" fill="#fd5693"/>
<path d="M684.4 1539.6 L725.2 1524.1 L640.7 1493.8 Z" fill="url(#g101)"/>
<path d="M596.9 1425.4 L553.1 1334.3 L512.4 1392.3 Z" fill="url(#g97)"/>
<path d="M340.3 1227.9 L296.5 1131.1 L255.8 1325.2 Z" fill="#fd5692"/>
<path d="M387.1 1471.0 L343.3 1428.1 L302.6 1542.8 Z" fill="url(#g70)"/>
<path d="M384.1 1313.4 L340.3 1227.9 L299.6 1379.5 Z" fill="#fd5693"/>
<path d="M640.7 1493.8 L596.9 1425.4 L556.1 1463.5 Z" fill="url(#g95)"/>
<path d="M769.0 1550.0 L725.2 1524.1 L684.4 1539.6 Z" fill="url(#g100)"/>
<path d="M553.1 1334.3 L509.4 1220.5 L468.6 1304.0 Z" fill="#fd5794"/>
<path d="M556.1 1463.5 L596.9 1425.4 L512.4 1392.3 Z" fill="url(#g96)"/>
<path d="M512.4 1392.3 L553.1 1334.3 L468.6 1304.0 Z" fill="url(#g98)"/>
<path d="M427.9 1387.5 L384.1 1313.4 L343.3 1428.1 Z" fill="#fd5794"/>
<path d="M346.4 1554.5 L387.1 1471.0 L302.6 1542.8 Z" fill="url(#g69)"/>
<path d="M387.1 1471.0 L427.9 1387.5 L343.3 1428.1 Z" fill="url(#g80)"/>
<path d="M512.4 1392.3 L468.6 1304.0 L427.9 1387.5 Z" fill="#fd5896"/>
<path d="M427.9 1387.5 L468.6 1304.0 L384.1 1313.4 Z" fill="#fd5794"/>
<path d="M599.9 1517.8 L640.7 1493.8 L556.1 1463.5 Z" fill="url(#g94)"/>
<path d="M468.6 1304.0 L509.4 1220.5 L424.8 1198.7 Z" fill="#fd5693"/>
<path d="M684.4 1539.6 L640.7 1493.8 L599.9 1517.8 Z" fill="url(#g93)"/>
<path d="M384.1 1313.4 L424.8 1198.7 L340.3 1227.9 Z" fill="#fd5693"/>
<path d="M468.6 1304.0 L424.8 1198.7 L384.1 1313.4 Z" fill="#fd5793"/>
<path d="M471.6 1450.2 L512.4 1392.3 L427.9 1387.5 Z" fill="url(#g89)"/>
<path d="M509.4 1220.5 L550.1 1136.9 L465.6 1084.0 Z" fill="#fd5692"/>
<path d="M556.1 1463.5 L512.4 1392.3 L471.6 1450.2 Z" fill="url(#g88)"/>
<path d="M471.6 1450.2 L427.9 1387.5 L387.1 1471.0 Z" fill="url(#g79)"/>
<path d="M509.4 1220.5 L465.6 1084.0 L424.8 1198.7 Z" fill="#fd5692"/>
<path d="M728.2 1562.7 L769.0 1550.0 L684.4 1539.6 Z" fill="url(#g99)"/>
<path d="M340.3 1227.9 L381.1 1076.3 L296.5 1131.1 Z" fill="#fd5692"/>
<path d="M424.8 1198.7 L381.1 1076.3 L340.3 1227.9 Z" fill="#fd5692"/>
<path d="M430.9 1508.2 L387.1 1471.0 L346.4 1554.5 Z" fill="url(#g68)"/>
<path d="M515.4 1501.7 L556.1 1463.5 L471.6 1450.2 Z" fill="url(#g87)"/>
<path d="M430.9 1508.2 L471.6 1450.2 L387.1 1471.0 Z" fill="url(#g78)"/>
<path d="M599.9 1517.8 L556.1 1463.5 L515.4 1501.7 Z" fill="url(#g86)"/>
<path d="M643.7 1555.0 L684.4 1539.6 L599.9 1517.8 Z" fill="url(#g92)"/>
<path d="M424.8 1198.7 L465.6 1084.0 L381.1 1076.3 Z" fill="#fd5692"/>
<path d="M515.4 1501.7 L471.6 1450.2 L430.9 1508.2 Z" fill="url(#g77)"/>
<path d="M728.2 1562.7 L684.4 1539.6 L643.7 1555.0 Z" fill="url(#g91)"/>
<path d="M390.1 1566.2 L430.9 1508.2 L346.4 1554.5 Z" fill="url(#g67)"/>
<path d="M559.2 1541.8 L599.9 1517.8 L515.4 1501.7 Z" fill="url(#g85)"/>
<path d="M643.7 1555.0 L599.9 1517.8 L559.2 1541.8 Z" fill="url(#g84)"/>
<path d="M474.6 1539.8 L515.4 1501.7 L430.9 1508.2 Z" fill="url(#g76)"/>
<path d="M474.6 1539.8 L430.9 1508.2 L390.1 1566.2 Z" fill="url(#g66)"/>
<path d="M559.2 1541.8 L515.4 1501.7 L474.6 1539.8 Z" fill="url(#g75)"/>
<path d="M687.5 1575.3 L728.2 1562.7 L643.7 1555.0 Z" fill="url(#g90)"/>
<path d="M602.9 1570.5 L643.7 1555.0 L559.2 1541.8 Z" fill="url(#g83)"/>
<path d="M433.9 1577.9 L474.6 1539.8 L390.1 1566.2 Z" fill="url(#g65)"/>
<path d="M518.4 1565.7 L559.2 1541.8 L474.6 1539.8 Z" fill="url(#g74)"/>
<path d="M687.5 1575.3 L643.7 1555.0 L602.9 1570.5 Z" fill="url(#g82)"/>
<path d="M602.9 1570.5 L559.2 1541.8 L518.4 1565.7 Z" fill="url(#g73)"/>
<path d="M518.4 1565.7 L474.6 1539.8 L433.9 1577.9 Z" fill="url(#g64)"/>
<path d="M646.7 1587.9 L687.5 1575.3 L602.9 1570.5 Z" fill="url(#g81)"/>
<path d="M562.2 1585.9 L602.9 1570.5 L518.4 1565.7 Z" fill="url(#g72)"/>
<path d="M477.7 1589.7 L518.4 1565.7 L433.9 1577.9 Z" fill="url(#g63)"/>
<path d="M646.7 1587.9 L602.9 1570.5 L562.2 1585.9 Z" fill="url(#g71)"/>
<path d="M562.2 1585.9 L518.4 1565.7 L477.7 1589.7 Z" fill="url(#g62)"/>
<path d="M606.0 1600.5 L646.7 1587.9 L562.2 1585.9 Z" fill="#fa82d0"/>
<path d="M521.4 1601.4 L562.2 1585.9 L477.7 1589.7 Z" fill="url(#g61)"/>
<path d="M606.0 1600.5 L562.2 1585.9 L521.4 1601.4 Z" fill="#fb82d0"/>
<path d="M565.2 1613.1 L606.0 1600.5 L521.4 1601.4 Z" fill="#fa82d0"/>
</g>
<g font-family="'Liberation Sans', Arial, sans-serif" font-size="26" fill="#444444">
<text x="105.0" y="1500.2" text-anchor="end">0</text>
<text x="105.0" y="1428.5" text-anchor="end">0.1</text>
<text x="105.0" y="1357.6" text-anchor="end">0.2</text>
<text x="105.0" y="1286.7" text-anchor="end">0.3</text>
<text x="105.0" y="1215.8" text-anchor="end">0.4</text>
<text x="105.0" y="1144.9" text-anchor="end">0.5</text>
<text x="105.0" y="1074.0" text-anchor="end">0.6</text>
<text x="535.9" y="1646.9" text-anchor="middle">0</text>
<text x="307.7" y="1587.2" text-anchor="middle">0.5</text>
<text x="97.7" y="1529.4" text-anchor="middle">1</text>
<text x="593.9" y="1645.1" text-anchor="middle">0</text>
<text x="808.0" y="1581.8" text-anchor="middle">0.5</text>
<text x="1002.6" y="1518.0" text-anchor="middle">1</text>
</g>
<g font-family="'Liberation Sans', Arial, sans-serif" font-size="29.5" fill="#444444">
<text x="755.0" y="1656.0" text-anchor="middle">X</text>
<text x="366.4" y="1660.5" text-anchor="middle">Y</text>
<text transform="translate(52.5 1282.2) rotate(-90)" text-anchor="middle">Z</text>
</g>
<g>
<text x="288.4" y="922.5" font-family="'Liberation Sans', Arial, Helvetica, sans-serif" font-weight="bold" font-size="26.5" fill="#141414" text-anchor="start" textLength="392.1" lengthAdjust="spacingAndGlyphs" stroke="#141414" stroke-width="0.5">Triangular Basis Function: T</text>
<text x="680.8" y="910.2" font-family="'Liberation Sans', Arial, Helvetica, sans-serif" font-weight="bold" font-size="21.5" fill="#141414" text-anchor="start" textLength="10.5" lengthAdjust="spacingAndGlyphs" stroke="#141414" stroke-width="0.5">3</text>
<text x="682.0" y="938.1" font-family="'Liberation Sans', Arial, Helvetica, sans-serif" font-weight="bold" font-size="21.5" fill="#141414" text-anchor="start" textLength="34.6" lengthAdjust="spacingAndGlyphs" stroke="#141414" stroke-width="0.5">120</text>
<text x="721.5" y="922.5" font-family="'Liberation Sans', Arial, Helvetica, sans-serif" font-weight="bold" font-size="26.5" fill="#141414" text-anchor="start" textLength="89.3" lengthAdjust="spacingAndGlyphs" stroke="#141414" stroke-width="0.5">(u,v,w)</text>
</g>
<g>
<text x="377.4" y="1728.8" font-family="'Liberation Serif', 'Times New Roman', serif" font-weight="bold" font-size="47.5" fill="#000" text-anchor="end" stroke="#000" stroke-width="0.9">(g)</text>
<text x="394.4" y="1728.8" font-family="'Liberation Serif', 'Times New Roman', serif" font-weight="bold" font-style="italic" font-size="58" fill="#000" text-anchor="start" textLength="33.0" lengthAdjust="spacingAndGlyphs" stroke="#000" stroke-width="0.9">T</text>
<text x="429.8" y="1706.2" font-family="'Liberation Serif', 'Times New Roman', serif" font-weight="bold" font-size="41" fill="#000" text-anchor="start" textLength="20.7" lengthAdjust="spacingAndGlyphs" stroke="#000" stroke-width="0.9">3</text>
<text x="432.4" y="1742.9" font-family="'Liberation Serif', 'Times New Roman', serif" font-weight="bold" font-size="41" fill="#000" text-anchor="start" textLength="67.0" lengthAdjust="spacingAndGlyphs" stroke="#000" stroke-width="0.9">120</text>
<text x="509.7" y="1729.8" font-family="'Liberation Serif', 'Times New Roman', serif" font-weight="normal" font-size="60" fill="#000" text-anchor="start" textLength="18.0" lengthAdjust="spacingAndGlyphs" stroke="#000" stroke-width="0.5">(</text>
<text x="531.0" y="1728.8" font-family="'Liberation Serif', 'Times New Roman', serif" font-weight="bold" font-style="italic" font-size="58" fill="#000" text-anchor="start" textLength="34.1" lengthAdjust="spacingAndGlyphs" stroke="#000" stroke-width="0.9">u</text>
<text x="567.7" y="1728.8" font-family="'Liberation Serif', 'Times New Roman', serif" font-weight="bold" font-size="58" fill="#000" text-anchor="start" textLength="10.3" lengthAdjust="spacingAndGlyphs" stroke="#000" stroke-width="0.9">,</text>
<text x="590.9" y="1728.8" font-family="'Liberation Serif', 'Times New Roman', serif" font-weight="bold" font-style="italic" font-size="58" fill="#000" text-anchor="start" textLength="32.2" lengthAdjust="spacingAndGlyphs" stroke="#000" stroke-width="0.9">v</text>
<text x="624.3" y="1728.8" font-family="'Liberation Serif', 'Times New Roman', serif" font-weight="bold" font-size="58" fill="#000" text-anchor="start" textLength="10.4" lengthAdjust="spacingAndGlyphs" stroke="#000" stroke-width="0.9">,</text>
<text x="647.5" y="1728.8" font-family="'Liberation Serif', 'Times New Roman', serif" font-weight="bold" font-style="italic" font-size="58" fill="#000" text-anchor="start" textLength="42.5" lengthAdjust="spacingAndGlyphs" stroke="#000" stroke-width="0.9">w</text>
<text x="693.3" y="1729.8" font-family="'Liberation Serif', 'Times New Roman', serif" font-weight="normal" font-size="60" fill="#000" text-anchor="start" textLength="18.0" lengthAdjust="spacingAndGlyphs" stroke="#000" stroke-width="0.5">)</text>
</g>
</g>
<g id="panel-h">
<path d="M1816.3 1551.3 L1376.0 1433.3 M2022.1 1488.7 L1581.8 1370.7 M1390.4 1554.9 L1801.9 1429.7 M1170.3 1495.9 L1581.8 1370.7 M1376.0 1433.3 L1376.0 1007.9 M1581.8 1370.7 L1581.8 945.3 M1801.9 1429.7 L1801.9 1004.3 M2022.1 1488.7 L2022.1 1063.3 M1170.3 1425.0 L1581.8 1299.8 L2022.1 1417.8 M1170.3 1354.1 L1581.8 1228.9 L2022.1 1346.9 M1170.3 1283.2 L1581.8 1158.0 L2022.1 1276.0 M1170.3 1212.3 L1581.8 1087.1 L2022.1 1205.1 M1170.3 1141.4 L1581.8 1016.2 L2022.1 1134.2 M1170.3 1070.5 L1581.8 945.3 L2022.1 1063.3" stroke="#e2e2e2" stroke-width="1.8" fill="none"/>
<path d="M1170.3 1495.9 L1610.6 1613.9 L2022.1 1488.7" stroke="#505050" stroke-width="1.5" fill="none"/>
<path d="M1170.3 1495.9 L1170.3 1070.5 M1610.6 1613.9 L1623.2 1617.3 M1816.3 1551.3 L1828.9 1554.7 M2022.1 1488.7 L2034.7 1492.1 M1610.6 1613.9 L1598.2 1617.7 M1390.4 1554.9 L1378.0 1558.7 M1170.3 1495.9 L1157.9 1499.7 M1170.3 1495.9 L1157.7 1492.5 M1170.3 1425.0 L1157.7 1421.6 M1170.3 1354.1 L1157.7 1350.7 M1170.3 1283.2 L1157.7 1279.8 M1170.3 1212.3 L1157.7 1208.9 M1170.3 1141.4 L1157.7 1138.0 M1170.3 1070.5 L1157.7 1067.1" stroke="#7c7c7c" stroke-width="1.8" fill="none"/>
<g stroke="#30081c" stroke-width="1.15" stroke-linejoin="round">
<path d="M1469.9 1480.0 L1511.0 1493.0 L1425.8 1493.7 Z" fill="#d04473"/>
<path d="M1384.7 1494.9 L1425.8 1493.7 L1340.7 1494.5 Z" fill="url(#g173)"/>
<path d="M1555.0 1459.4 L1596.2 1492.3 L1511.0 1493.0 Z" fill="#d04473"/>
<path d="M1299.5 1504.1 L1340.7 1494.5 L1255.5 1495.2 Z" fill="url(#g159)"/>
<path d="M1640.2 1433.2 L1681.4 1491.6 L1596.2 1492.3 Z" fill="#d04473"/>
<path d="M1214.3 1507.7 L1255.5 1495.2 L1170.3 1495.9 Z" fill="#fa82d0"/>
<path d="M1725.4 1401.3 L1766.6 1490.9 L1681.4 1491.6 Z" fill="#d04473"/>
<path d="M1810.6 1363.7 L1851.7 1490.1 L1766.6 1490.9 Z" fill="#d04473"/>
<path d="M1895.8 1320.4 L1936.9 1489.4 L1851.7 1490.1 Z" fill="#d04473"/>
<path d="M1384.7 1494.9 L1340.7 1494.5 L1299.5 1504.1 Z" fill="url(#g158)"/>
<path d="M1299.5 1504.1 L1255.5 1495.2 L1214.3 1507.7 Z" fill="#fa82cf"/>
<path d="M1469.9 1480.0 L1425.8 1493.7 L1384.7 1494.9 Z" fill="#d04473"/>
<path d="M1980.9 1271.5 L2022.1 1488.7 L1936.9 1489.4 Z" fill="#d04473"/>
<path d="M1555.0 1459.4 L1511.0 1493.0 L1469.9 1480.0 Z" fill="#d04473"/>
<path d="M1640.2 1433.2 L1596.2 1492.3 L1555.0 1459.4 Z" fill="#d04473"/>
<path d="M1725.4 1401.3 L1681.4 1491.6 L1640.2 1433.2 Z" fill="#d04473"/>
<path d="M1810.6 1363.7 L1766.6 1490.9 L1725.4 1401.3 Z" fill="#d04473"/>
<path d="M1258.4 1519.5 L1299.5 1504.1 L1214.3 1507.7 Z" fill="#fa82d0"/>
<path d="M1343.5 1513.1 L1384.7 1494.9 L1299.5 1504.1 Z" fill="url(#g157)"/>
<path d="M1428.7 1495.4 L1469.9 1480.0 L1384.7 1494.9 Z" fill="url(#g172)"/>
<path d="M1895.8 1320.4 L1851.7 1490.1 L1810.6 1363.7 Z" fill="#d04473"/>
<path d="M1343.5 1513.1 L1299.5 1504.1 L1258.4 1519.5 Z" fill="url(#g142)"/>
<path d="M1513.9 1466.3 L1555.0 1459.4 L1469.9 1480.0 Z" fill="#d04473"/>
<path d="M1428.7 1495.4 L1384.7 1494.9 L1343.5 1513.1 Z" fill="url(#g156)"/>
<path d="M1513.9 1466.3 L1469.9 1480.0 L1428.7 1495.4 Z" fill="url(#g171)"/>
<path d="M1980.9 1271.5 L1936.9 1489.4 L1895.8 1320.4 Z" fill="#d04473"/>
<path d="M1599.1 1425.9 L1640.2 1433.2 L1555.0 1459.4 Z" fill="#d04473"/>
<path d="M1599.1 1425.9 L1555.0 1459.4 L1513.9 1466.3 Z" fill="#d04473"/>
<path d="M1302.4 1531.3 L1343.5 1513.1 L1258.4 1519.5 Z" fill="url(#g141)"/>
<path d="M1387.6 1522.1 L1428.7 1495.4 L1343.5 1513.1 Z" fill="url(#g155)"/>
<path d="M1684.3 1374.1 L1725.4 1401.3 L1640.2 1433.2 Z" fill="#d04473"/>
<path d="M1472.8 1495.8 L1513.9 1466.3 L1428.7 1495.4 Z" fill="url(#g170)"/>
<path d="M1387.6 1522.1 L1343.5 1513.1 L1302.4 1531.3 Z" fill="url(#g140)"/>
<path d="M1684.3 1374.1 L1640.2 1433.2 L1599.1 1425.9 Z" fill="#d04473"/>
<path d="M1472.8 1495.8 L1428.7 1495.4 L1387.6 1522.1 Z" fill="url(#g154)"/>
<path d="M1769.4 1311.0 L1810.6 1363.7 L1725.4 1401.3 Z" fill="#d04473"/>
<path d="M1557.9 1452.6 L1599.1 1425.9 L1513.9 1466.3 Z" fill="url(#g179)"/>
<path d="M1557.9 1452.6 L1513.9 1466.3 L1472.8 1495.8 Z" fill="url(#g169)"/>
<path d="M1769.4 1311.0 L1725.4 1401.3 L1684.3 1374.1 Z" fill="#d04473"/>
<path d="M1346.4 1543.1 L1387.6 1522.1 L1302.4 1531.3 Z" fill="url(#g139)"/>
<path d="M1431.6 1531.0 L1472.8 1495.8 L1387.6 1522.1 Z" fill="url(#g153)"/>
<path d="M1854.6 1236.5 L1895.8 1320.4 L1810.6 1363.7 Z" fill="#d04473"/>
<path d="M1431.6 1531.0 L1387.6 1522.1 L1346.4 1543.1 Z" fill="url(#g138)"/>
<path d="M1643.1 1392.3 L1684.3 1374.1 L1599.1 1425.9 Z" fill="#d04473"/>
<path d="M1643.1 1392.3 L1599.1 1425.9 L1557.9 1452.6 Z" fill="#d04473"/>
<path d="M1516.8 1496.3 L1557.9 1452.6 L1472.8 1495.8 Z" fill="url(#g168)"/>
<path d="M1516.8 1496.3 L1472.8 1495.8 L1431.6 1531.0 Z" fill="url(#g152)"/>
<path d="M1854.6 1236.5 L1810.6 1363.7 L1769.4 1311.0 Z" fill="#d04473"/>
<path d="M1939.8 1150.7 L1980.9 1271.5 L1895.8 1320.4 Z" fill="#d04473"/>
<path d="M1390.4 1554.9 L1431.6 1531.0 L1346.4 1543.1 Z" fill="url(#g137)"/>
<path d="M1602.0 1438.8 L1557.9 1452.6 L1516.8 1496.3 Z" fill="url(#g167)"/>
<path d="M1728.3 1315.0 L1769.4 1311.0 L1684.3 1374.1 Z" fill="#d04473"/>
<path d="M1602.0 1438.8 L1643.1 1392.3 L1557.9 1452.6 Z" fill="url(#g178)"/>
<path d="M1475.6 1540.0 L1516.8 1496.3 L1431.6 1531.0 Z" fill="url(#g151)"/>
<path d="M1728.3 1315.0 L1684.3 1374.1 L1643.1 1392.3 Z" fill="#d04473"/>
<path d="M1475.6 1540.0 L1431.6 1531.0 L1390.4 1554.9 Z" fill="url(#g136)"/>
<path d="M1939.8 1150.7 L1895.8 1320.4 L1854.6 1236.5 Z" fill="#d04473"/>
<path d="M1560.8 1496.7 L1516.8 1496.3 L1475.6 1540.0 Z" fill="url(#g150)"/>
<path d="M1560.8 1496.7 L1602.0 1438.8 L1516.8 1496.3 Z" fill="url(#g166)"/>
<path d="M1687.1 1358.7 L1643.1 1392.3 L1602.0 1438.8 Z" fill="url(#g177)"/>
<path d="M1434.5 1566.7 L1475.6 1540.0 L1390.4 1554.9 Z" fill="url(#g135)"/>
<path d="M1687.1 1358.7 L1728.3 1315.0 L1643.1 1392.3 Z" fill="url(#g181)"/>
<path d="M1813.5 1220.7 L1854.6 1236.5 L1769.4 1311.0 Z" fill="#d04473"/>
<path d="M1813.5 1220.7 L1769.4 1311.0 L1728.3 1315.0 Z" fill="#d04473"/>
<path d="M1519.7 1549.0 L1560.8 1496.7 L1475.6 1540.0 Z" fill="url(#g149)"/>
<path d="M1519.7 1549.0 L1475.6 1540.0 L1434.5 1566.7 Z" fill="url(#g134)"/>
<path d="M1646.0 1425.1 L1602.0 1438.8 L1560.8 1496.7 Z" fill="url(#g165)"/>
<path d="M1646.0 1425.1 L1687.1 1358.7 L1602.0 1438.8 Z" fill="url(#g176)"/>
<path d="M1604.8 1497.2 L1560.8 1496.7 L1519.7 1549.0 Z" fill="url(#g148)"/>
<path d="M1604.8 1497.2 L1646.0 1425.1 L1560.8 1496.7 Z" fill="url(#g164)"/>
<path d="M1478.5 1578.5 L1519.7 1549.0 L1434.5 1566.7 Z" fill="url(#g133)"/>
<path d="M1772.3 1255.9 L1728.3 1315.0 L1687.1 1358.7 Z" fill="#d04473"/>
<path d="M1772.3 1255.9 L1813.5 1220.7 L1728.3 1315.0 Z" fill="#d04473"/>
<path d="M1898.6 1109.4 L1939.8 1150.7 L1854.6 1236.5 Z" fill="#d04473"/>
<path d="M1563.7 1557.9 L1604.8 1497.2 L1519.7 1549.0 Z" fill="url(#g147)"/>
<path d="M1563.7 1557.9 L1519.7 1549.0 L1478.5 1578.5 Z" fill="url(#g132)"/>
<path d="M1898.6 1109.4 L1854.6 1236.5 L1813.5 1220.7 Z" fill="#d04473"/>
<path d="M1731.2 1325.1 L1687.1 1358.7 L1646.0 1425.1 Z" fill="url(#g175)"/>
<path d="M1690.0 1411.4 L1646.0 1425.1 L1604.8 1497.2 Z" fill="url(#g163)"/>
<path d="M1731.2 1325.1 L1772.3 1255.9 L1687.1 1358.7 Z" fill="url(#g180)"/>
<path d="M1648.9 1497.7 L1604.8 1497.2 L1563.7 1557.9 Z" fill="url(#g146)"/>
<path d="M1522.5 1590.3 L1563.7 1557.9 L1478.5 1578.5 Z" fill="url(#g131)"/>
<path d="M1690.0 1411.4 L1731.2 1325.1 L1646.0 1425.1 Z" fill="url(#g174)"/>
<path d="M1648.9 1497.7 L1690.0 1411.4 L1604.8 1497.2 Z" fill="url(#g162)"/>
<path d="M1607.7 1566.9 L1648.9 1497.7 L1563.7 1557.9 Z" fill="url(#g145)"/>
<path d="M1607.7 1566.9 L1563.7 1557.9 L1522.5 1590.3 Z" fill="url(#g130)"/>
<path d="M1857.5 1130.4 L1813.5 1220.7 L1772.3 1255.9 Z" fill="#d04473"/>
<path d="M1857.5 1130.4 L1898.6 1109.4 L1813.5 1220.7 Z" fill="#d04473"/>
<path d="M1816.3 1196.8 L1772.3 1255.9 L1731.2 1325.1 Z" fill="#fd5996"/>
<path d="M1734.0 1397.7 L1690.0 1411.4 L1648.9 1497.7 Z" fill="url(#g161)"/>
<path d="M1566.6 1602.1 L1607.7 1566.9 L1522.5 1590.3 Z" fill="url(#g129)"/>
<path d="M1775.2 1291.6 L1731.2 1325.1 L1690.0 1411.4 Z" fill="#fd5996"/>
<path d="M1692.9 1498.1 L1648.9 1497.7 L1607.7 1566.9 Z" fill="url(#g144)"/>
<path d="M1692.9 1498.1 L1734.0 1397.7 L1648.9 1497.7 Z" fill="url(#g160)"/>
<path d="M1816.3 1196.8 L1857.5 1130.4 L1772.3 1255.9 Z" fill="#fd5895"/>
<path d="M1651.8 1575.9 L1607.7 1566.9 L1566.6 1602.1 Z" fill="url(#g128)"/>
<path d="M1651.8 1575.9 L1692.9 1498.1 L1607.7 1566.9 Z" fill="url(#g143)"/>
<path d="M1734.0 1397.7 L1775.2 1291.6 L1690.0 1411.4 Z" fill="#fd5896"/>
<path d="M1775.2 1291.6 L1816.3 1196.8 L1731.2 1325.1 Z" fill="#fd5896"/>
<path d="M1610.6 1613.9 L1651.8 1575.9 L1566.6 1602.1 Z" fill="url(#g127)"/>
</g>
<g font-family="'Liberation Sans', Arial, sans-serif" font-size="26" fill="#444444">
<text x="1147.8" y="1500.2" text-anchor="end">0</text>
<text x="1147.8" y="1428.5" text-anchor="end">0.1</text>
<text x="1147.8" y="1357.6" text-anchor="end">0.2</text>
<text x="1147.8" y="1286.7" text-anchor="end">0.3</text>
<text x="1147.8" y="1215.8" text-anchor="end">0.4</text>
<text x="1147.8" y="1144.9" text-anchor="end">0.5</text>
<text x="1147.8" y="1074.0" text-anchor="end">0.6</text>
<text x="1581.3" y="1647.7" text-anchor="middle">0</text>
<text x="1351.7" y="1587.6" text-anchor="middle">0.5</text>
<text x="1140.5" y="1529.4" text-anchor="middle">1</text>
<text x="1639.3" y="1645.9" text-anchor="middle">0</text>
<text x="1855.3" y="1583.1" text-anchor="middle">0.5</text>
<text x="2052.0" y="1519.7" text-anchor="middle">1</text>
</g>
<g font-family="'Liberation Sans', Arial, sans-serif" font-size="29.5" fill="#444444">
<text x="1802.3" y="1657.3" text-anchor="middle">X</text>
<text x="1410.4" y="1660.9" text-anchor="middle">Y</text>
<text transform="translate(1095.3 1282.2) rotate(-90)" text-anchor="middle">Z</text>
</g>
<g>
<text x="1333.3" y="918.7" font-family="'Liberation Sans', Arial, Helvetica, sans-serif" font-weight="bold" font-size="26.5" fill="#141414" text-anchor="start" textLength="392.1" lengthAdjust="spacingAndGlyphs" stroke="#141414" stroke-width="0.5">Triangular Basis Function: T</text>
<text x="1725.7" y="906.4" font-family="'Liberation Sans', Arial, Helvetica, sans-serif" font-weight="bold" font-size="21.5" fill="#141414" text-anchor="start" textLength="10.5" lengthAdjust="spacingAndGlyphs" stroke="#141414" stroke-width="0.5">3</text>
<text x="1726.9" y="934.3" font-family="'Liberation Sans', Arial, Helvetica, sans-serif" font-weight="bold" font-size="21.5" fill="#141414" text-anchor="start" textLength="34.6" lengthAdjust="spacingAndGlyphs" stroke="#141414" stroke-width="0.5">201</text>
<text x="1766.4" y="918.7" font-family="'Liberation Sans', Arial, Helvetica, sans-serif" font-weight="bold" font-size="26.5" fill="#141414" text-anchor="start" textLength="89.3" lengthAdjust="spacingAndGlyphs" stroke="#141414" stroke-width="0.5">(u,v,w)</text>
</g>
<g>
<text x="1423.9" y="1728.8" font-family="'Liberation Serif', 'Times New Roman', serif" font-weight="bold" font-size="47.5" fill="#000" text-anchor="end" stroke="#000" stroke-width="0.9">(h)</text>
<text x="1440.9" y="1728.8" font-family="'Liberation Serif', 'Times New Roman', serif" font-weight="bold" font-style="italic" font-size="58" fill="#000" text-anchor="start" textLength="33.0" lengthAdjust="spacingAndGlyphs" stroke="#000" stroke-width="0.9">T</text>
<text x="1476.3" y="1706.2" font-family="'Liberation Serif', 'Times New Roman', serif" font-weight="bold" font-size="41" fill="#000" text-anchor="start" textLength="20.7" lengthAdjust="spacingAndGlyphs" stroke="#000" stroke-width="0.9">3</text>
<text x="1478.9" y="1742.9" font-family="'Liberation Serif', 'Times New Roman', serif" font-weight="bold" font-size="41" fill="#000" text-anchor="start" textLength="67.0" lengthAdjust="spacingAndGlyphs" stroke="#000" stroke-width="0.9">201</text>
<text x="1556.2" y="1729.8" font-family="'Liberation Serif', 'Times New Roman', serif" font-weight="normal" font-size="60" fill="#000" text-anchor="start" textLength="18.0" lengthAdjust="spacingAndGlyphs" stroke="#000" stroke-width="0.5">(</text>
<text x="1577.5" y="1728.8" font-family="'Liberation Serif', 'Times New Roman', serif" font-weight="bold" font-style="italic" font-size="58" fill="#000" text-anchor="start" textLength="34.1" lengthAdjust="spacingAndGlyphs" stroke="#000" stroke-width="0.9">u</text>
<text x="1614.2" y="1728.8" font-family="'Liberation Serif', 'Times New Roman', serif" font-weight="bold" font-size="58" fill="#000" text-anchor="start" textLength="10.3" lengthAdjust="spacingAndGlyphs" stroke="#000" stroke-width="0.9">,</text>
<text x="1637.4" y="1728.8" font-family="'Liberation Serif', 'Times New Roman', serif" font-weight="bold" font-style="italic" font-size="58" fill="#000" text-anchor="start" textLength="32.2" lengthAdjust="spacingAndGlyphs" stroke="#000" stroke-width="0.9">v</text>
<text x="1670.8" y="1728.8" font-family="'Liberation Serif', 'Times New Roman', serif" font-weight="bold" font-size="58" fill="#000" text-anchor="start" textLength="10.4" lengthAdjust="spacingAndGlyphs" stroke="#000" stroke-width="0.9">,</text>
<text x="1694.0" y="1728.8" font-family="'Liberation Serif', 'Times New Roman', serif" font-weight="bold" font-style="italic" font-size="58" fill="#000" text-anchor="start" textLength="42.5" lengthAdjust="spacingAndGlyphs" stroke="#000" stroke-width="0.9">w</text>
<text x="1739.8" y="1729.8" font-family="'Liberation Serif', 'Times New Roman', serif" font-weight="normal" font-size="60" fill="#000" text-anchor="start" textLength="18.0" lengthAdjust="spacingAndGlyphs" stroke="#000" stroke-width="0.5">)</text>
</g>
</g>
<g id="panel-i">
<path d="M770.2 2413.0 L332.9 2295.6 M975.2 2349.4 L537.9 2232.0 M346.6 2417.9 L756.5 2290.7 M127.9 2359.2 L537.9 2232.0 M332.9 2295.6 L332.9 1871.4 M537.9 2232.0 L537.9 1807.8 M756.5 2290.7 L756.5 1866.5 M975.2 2349.4 L975.2 1925.2 M127.9 2288.5 L537.9 2161.3 L975.2 2278.7 M127.9 2217.8 L537.9 2090.6 L975.2 2208.0 M127.9 2147.1 L537.9 2019.9 L975.2 2137.3 M127.9 2076.4 L537.9 1949.2 L975.2 2066.6 M127.9 2005.7 L537.9 1878.5 L975.2 1995.9 M127.9 1935.0 L537.9 1807.8 L975.2 1925.2" stroke="#e2e2e2" stroke-width="1.8" fill="none"/>
<path d="M127.9 2359.2 L565.2 2476.6 L975.2 2349.4" stroke="#505050" stroke-width="1.5" fill="none"/>
<path d="M127.9 2359.2 L127.9 1935.0 M565.2 2476.6 L577.8 2480.0 M770.2 2413.0 L782.8 2416.4 M975.2 2349.4 L987.8 2352.8 M565.2 2476.6 L552.8 2480.5 M346.6 2417.9 L334.1 2421.8 M127.9 2359.2 L115.5 2363.1 M127.9 2359.2 L115.3 2355.8 M127.9 2288.5 L115.3 2285.1 M127.9 2217.8 L115.3 2214.4 M127.9 2147.1 L115.3 2143.7 M127.9 2076.4 L115.3 2073.0 M127.9 2005.7 L115.3 2002.3 M127.9 1935.0 L115.3 1931.6" stroke="#7c7c7c" stroke-width="1.8" fill="none"/>
<g stroke="#30081c" stroke-width="1.15" stroke-linejoin="round">
<path d="M171.6 2370.9 L212.6 2332.8 L127.9 2359.2 Z" fill="url(#g197)"/>
<path d="M382.1 2178.1 L212.6 2332.8 L127.9 2359.2 Z" fill="#fd5591"/>
<path d="M934.2 2362.1 L975.2 2349.4 L890.5 2121.3 Z" fill="#fd5591"/>
<path d="M256.4 2347.3 L212.6 2332.8 L171.6 2370.9 Z" fill="url(#g196)"/>
<path d="M256.4 2347.3 L297.4 2266.7 L212.6 2332.8 Z" fill="url(#g214)"/>
<path d="M382.1 2178.1 L297.4 2266.7 L212.6 2332.8 Z" fill="#fd5591"/>
<path d="M215.4 2382.7 L256.4 2347.3 L171.6 2370.9 Z" fill="url(#g195)"/>
<path d="M341.1 2289.8 L297.4 2266.7 L256.4 2347.3 Z" fill="url(#g213)"/>
<path d="M893.2 2374.8 L934.2 2362.1 L849.5 2182.1 Z" fill="#fd5592"/>
<path d="M341.1 2289.8 L382.1 2178.1 L297.4 2266.7 Z" fill="url(#g229)"/>
<path d="M300.1 2361.9 L341.1 2289.8 L256.4 2347.3 Z" fill="url(#g212)"/>
<path d="M300.1 2361.9 L256.4 2347.3 L215.4 2382.7 Z" fill="url(#g194)"/>
<path d="M934.2 2362.1 L890.5 2121.3 L849.5 2182.1 Z" fill="#fd5591"/>
<path d="M384.8 2312.8 L341.1 2289.8 L300.1 2361.9 Z" fill="url(#g211)"/>
<path d="M425.8 2215.3 L382.1 2178.1 L341.1 2289.8 Z" fill="url(#g228)"/>
<path d="M259.1 2394.4 L300.1 2361.9 L215.4 2382.7 Z" fill="url(#g193)"/>
<path d="M852.2 2387.6 L893.2 2374.8 L808.5 2237.2 Z" fill="#fd5692"/>
<path d="M384.8 2312.8 L425.8 2215.3 L341.1 2289.8 Z" fill="url(#g227)"/>
<path d="M893.2 2374.8 L849.5 2182.1 L808.5 2237.2 Z" fill="#fd5692"/>
<path d="M343.8 2376.5 L384.8 2312.8 L300.1 2361.9 Z" fill="url(#g210)"/>
<path d="M343.8 2376.5 L300.1 2361.9 L259.1 2394.4 Z" fill="url(#g192)"/>
<path d="M425.8 2215.3 L466.8 2083.8 L382.1 2178.1 Z" fill="#fd5793"/>
<path d="M469.6 2252.5 L425.8 2215.3 L384.8 2312.8 Z" fill="url(#g226)"/>
<path d="M428.6 2335.9 L384.8 2312.8 L343.8 2376.5 Z" fill="url(#g209)"/>
<path d="M852.2 2387.6 L808.5 2237.2 L767.5 2286.7 Z" fill="#fd5693"/>
<path d="M849.5 2182.1 L890.5 2121.3 L805.7 1989.4 Z" fill="#fd5592"/>
<path d="M428.6 2335.9 L469.6 2252.5 L384.8 2312.8 Z" fill="url(#g225)"/>
<path d="M811.2 2400.3 L852.2 2387.6 L767.5 2286.7 Z" fill="#fd5794"/>
<path d="M302.8 2406.2 L343.8 2376.5 L259.1 2394.4 Z" fill="url(#g191)"/>
<path d="M510.6 2140.8 L466.8 2083.8 L425.8 2215.3 Z" fill="#fd5793"/>
<path d="M469.6 2252.5 L510.6 2140.8 L425.8 2215.3 Z" fill="#fd5895"/>
<path d="M808.5 2237.2 L849.5 2182.1 L764.7 2086.9 Z" fill="#fd5692"/>
<path d="M387.6 2391.0 L428.6 2335.9 L343.8 2376.5 Z" fill="url(#g208)"/>
<path d="M387.6 2391.0 L343.8 2376.5 L302.8 2406.2 Z" fill="url(#g190)"/>
<path d="M513.3 2289.7 L469.6 2252.5 L428.6 2335.9 Z" fill="url(#g224)"/>
<path d="M554.3 2197.8 L510.6 2140.8 L469.6 2252.5 Z" fill="#fd5895"/>
<path d="M849.5 2182.1 L805.7 1989.4 L764.7 2086.9 Z" fill="#fd5692"/>
<path d="M767.5 2286.7 L808.5 2237.2 L723.7 2173.2 Z" fill="#fd5793"/>
<path d="M510.6 2140.8 L551.5 2000.8 L466.8 2083.8 Z" fill="#fd5693"/>
<path d="M513.3 2289.7 L554.3 2197.8 L469.6 2252.5 Z" fill="url(#g238)"/>
<path d="M811.2 2400.3 L767.5 2286.7 L726.5 2330.6 Z" fill="url(#g246)"/>
<path d="M808.5 2237.2 L764.7 2086.9 L723.7 2173.2 Z" fill="#fd5693"/>
<path d="M472.3 2359.0 L428.6 2335.9 L387.6 2391.0 Z" fill="url(#g207)"/>
<path d="M472.3 2359.0 L513.3 2289.7 L428.6 2335.9 Z" fill="url(#g223)"/>
<path d="M554.3 2197.8 L595.3 2083.2 L510.6 2140.8 Z" fill="#fd5794"/>
<path d="M770.2 2413.0 L811.2 2400.3 L726.5 2330.6 Z" fill="url(#g245)"/>
<path d="M767.5 2286.7 L723.7 2173.2 L682.7 2248.1 Z" fill="#fd5794"/>
<path d="M595.3 2083.2 L551.5 2000.8 L510.6 2140.8 Z" fill="#fd5693"/>
<path d="M598.0 2254.8 L554.3 2197.8 L513.3 2289.7 Z" fill="url(#g237)"/>
<path d="M346.6 2417.9 L387.6 2391.0 L302.8 2406.2 Z" fill="url(#g189)"/>
<path d="M726.5 2330.6 L767.5 2286.7 L682.7 2248.1 Z" fill="url(#g247)"/>
<path d="M639.0 2165.7 L595.3 2083.2 L554.3 2197.8 Z" fill="#fd5794"/>
<path d="M598.0 2254.8 L639.0 2165.7 L554.3 2197.8 Z" fill="url(#g244)"/>
<path d="M557.0 2326.9 L513.3 2289.7 L472.3 2359.0 Z" fill="url(#g222)"/>
<path d="M723.7 2173.2 L764.7 2086.9 L680.0 2059.6 Z" fill="#fd5693"/>
<path d="M682.7 2248.1 L723.7 2173.2 L639.0 2165.7 Z" fill="#fd5794"/>
<path d="M557.0 2326.9 L598.0 2254.8 L513.3 2289.7 Z" fill="url(#g236)"/>
<path d="M431.3 2405.6 L472.3 2359.0 L387.6 2391.0 Z" fill="url(#g206)"/>
<path d="M682.7 2248.1 L639.0 2165.7 L598.0 2254.8 Z" fill="#fd5996"/>
<path d="M723.7 2173.2 L680.0 2059.6 L639.0 2165.7 Z" fill="#fd5793"/>
<path d="M639.0 2165.7 L680.0 2059.6 L595.3 2083.2 Z" fill="#fd5693"/>
<path d="M764.7 2086.9 L805.7 1989.4 L721.0 1936.6 Z" fill="#fd5692"/>
<path d="M641.7 2311.7 L682.7 2248.1 L598.0 2254.8 Z" fill="url(#g243)"/>
<path d="M431.3 2405.6 L387.6 2391.0 L346.6 2417.9 Z" fill="url(#g188)"/>
<path d="M726.5 2330.6 L682.7 2248.1 L641.7 2311.7 Z" fill="url(#g242)"/>
<path d="M595.3 2083.2 L636.3 1946.1 L551.5 2000.8 Z" fill="#fd5692"/>
<path d="M641.7 2311.7 L598.0 2254.8 L557.0 2326.9 Z" fill="url(#g235)"/>
<path d="M764.7 2086.9 L721.0 1936.6 L680.0 2059.6 Z" fill="#fd5692"/>
<path d="M770.2 2413.0 L726.5 2330.6 L685.5 2368.7 Z" fill="url(#g240)"/>
<path d="M516.0 2382.0 L557.0 2326.9 L472.3 2359.0 Z" fill="url(#g221)"/>
<path d="M680.0 2059.6 L636.3 1946.1 L595.3 2083.2 Z" fill="#fd5692"/>
<path d="M516.0 2382.0 L472.3 2359.0 L431.3 2405.6 Z" fill="url(#g205)"/>
<path d="M685.5 2368.7 L726.5 2330.6 L641.7 2311.7 Z" fill="url(#g241)"/>
<path d="M600.7 2364.1 L641.7 2311.7 L557.0 2326.9 Z" fill="url(#g234)"/>
<path d="M680.0 2059.6 L721.0 1936.6 L636.3 1946.1 Z" fill="#fd5692"/>
<path d="M600.7 2364.1 L557.0 2326.9 L516.0 2382.0 Z" fill="url(#g220)"/>
<path d="M729.2 2425.7 L770.2 2413.0 L685.5 2368.7 Z" fill="url(#g239)"/>
<path d="M685.5 2368.7 L641.7 2311.7 L600.7 2364.1 Z" fill="url(#g233)"/>
<path d="M390.3 2429.6 L431.3 2405.6 L346.6 2417.9 Z" fill="url(#g187)"/>
<path d="M475.0 2420.2 L516.0 2382.0 L431.3 2405.6 Z" fill="url(#g204)"/>
<path d="M644.5 2401.2 L685.5 2368.7 L600.7 2364.1 Z" fill="url(#g232)"/>
<path d="M559.7 2405.1 L600.7 2364.1 L516.0 2382.0 Z" fill="url(#g219)"/>
<path d="M475.0 2420.2 L431.3 2405.6 L390.3 2429.6 Z" fill="url(#g186)"/>
<path d="M729.2 2425.7 L685.5 2368.7 L644.5 2401.2 Z" fill="url(#g231)"/>
<path d="M559.7 2405.1 L516.0 2382.0 L475.0 2420.2 Z" fill="url(#g203)"/>
<path d="M644.5 2401.2 L600.7 2364.1 L559.7 2405.1 Z" fill="url(#g218)"/>
<path d="M688.2 2438.4 L729.2 2425.7 L644.5 2401.2 Z" fill="url(#g230)"/>
<path d="M434.0 2441.4 L475.0 2420.2 L390.3 2429.6 Z" fill="url(#g185)"/>
<path d="M518.7 2434.7 L559.7 2405.1 L475.0 2420.2 Z" fill="url(#g202)"/>
<path d="M603.5 2428.1 L644.5 2401.2 L559.7 2405.1 Z" fill="url(#g217)"/>
<path d="M688.2 2438.4 L644.5 2401.2 L603.5 2428.1 Z" fill="url(#g216)"/>
<path d="M518.7 2434.7 L475.0 2420.2 L434.0 2441.4 Z" fill="url(#g184)"/>
<path d="M603.5 2428.1 L559.7 2405.1 L518.7 2434.7 Z" fill="url(#g201)"/>
<path d="M647.2 2451.2 L688.2 2438.4 L603.5 2428.1 Z" fill="url(#g215)"/>
<path d="M562.5 2449.3 L603.5 2428.1 L518.7 2434.7 Z" fill="url(#g200)"/>
<path d="M477.7 2453.1 L518.7 2434.7 L434.0 2441.4 Z" fill="url(#g183)"/>
<path d="M647.2 2451.2 L603.5 2428.1 L562.5 2449.3 Z" fill="url(#g199)"/>
<path d="M562.5 2449.3 L518.7 2434.7 L477.7 2453.1 Z" fill="url(#g182)"/>
<path d="M606.2 2463.9 L647.2 2451.2 L562.5 2449.3 Z" fill="url(#g198)"/>
<path d="M521.5 2464.9 L562.5 2449.3 L477.7 2453.1 Z" fill="#fb82d0"/>
<path d="M606.2 2463.9 L562.5 2449.3 L521.5 2464.9 Z" fill="#fb82d0"/>
<path d="M565.2 2476.6 L606.2 2463.9 L521.5 2464.9 Z" fill="#fa82d0"/>
</g>
<g font-family="'Liberation Sans', Arial, sans-serif" font-size="26" fill="#444444">
<text x="105.4" y="2363.5" text-anchor="end">0</text>
<text x="105.4" y="2292.0" text-anchor="end">0.1</text>
<text x="105.4" y="2221.3" text-anchor="end">0.2</text>
<text x="105.4" y="2150.6" text-anchor="end">0.3</text>
<text x="105.4" y="2079.9" text-anchor="end">0.4</text>
<text x="105.4" y="2009.2" text-anchor="end">0.5</text>
<text x="105.4" y="1938.5" text-anchor="end">0.6</text>
<text x="535.9" y="2510.4" text-anchor="middle">0</text>
<text x="307.9" y="2450.6" text-anchor="middle">0.5</text>
<text x="98.1" y="2392.7" text-anchor="middle">1</text>
<text x="593.9" y="2508.6" text-anchor="middle">0</text>
<text x="809.2" y="2444.8" text-anchor="middle">0.5</text>
<text x="1005.1" y="2380.4" text-anchor="middle">1</text>
</g>
<g font-family="'Liberation Sans', Arial, sans-serif" font-size="29.5" fill="#444444">
<text x="756.2" y="2519.0" text-anchor="middle">X</text>
<text x="366.6" y="2523.9" text-anchor="middle">Y</text>
<text transform="translate(52.9 2146.1) rotate(-90)" text-anchor="middle">Z</text>
</g>
<g>
<text x="289.8" y="1783.5" font-family="'Liberation Sans', Arial, Helvetica, sans-serif" font-weight="bold" font-size="26.5" fill="#141414" text-anchor="start" textLength="392.1" lengthAdjust="spacingAndGlyphs" stroke="#141414" stroke-width="0.5">Triangular Basis Function: T</text>
<text x="682.2" y="1771.2" font-family="'Liberation Sans', Arial, Helvetica, sans-serif" font-weight="bold" font-size="21.5" fill="#141414" text-anchor="start" textLength="10.5" lengthAdjust="spacingAndGlyphs" stroke="#141414" stroke-width="0.5">3</text>
<text x="683.4" y="1799.1" font-family="'Liberation Sans', Arial, Helvetica, sans-serif" font-weight="bold" font-size="21.5" fill="#141414" text-anchor="start" textLength="34.6" lengthAdjust="spacingAndGlyphs" stroke="#141414" stroke-width="0.5">210</text>
<text x="722.9" y="1783.5" font-family="'Liberation Sans', Arial, Helvetica, sans-serif" font-weight="bold" font-size="26.5" fill="#141414" text-anchor="start" textLength="89.3" lengthAdjust="spacingAndGlyphs" stroke="#141414" stroke-width="0.5">(u,v,w)</text>
</g>
<g>
<text x="372.6" y="2593.3" font-family="'Liberation Serif', 'Times New Roman', serif" font-weight="bold" font-size="47.5" fill="#000" text-anchor="end" stroke="#000" stroke-width="0.9">(i)</text>
<text x="389.6" y="2593.3" font-family="'Liberation Serif', 'Times New Roman', serif" font-weight="bold" font-style="italic" font-size="58" fill="#000" text-anchor="start" textLength="33.0" lengthAdjust="spacingAndGlyphs" stroke="#000" stroke-width="0.9">T</text>
<text x="425.0" y="2570.7" font-family="'Liberation Serif', 'Times New Roman', serif" font-weight="bold" font-size="41" fill="#000" text-anchor="start" textLength="20.7" lengthAdjust="spacingAndGlyphs" stroke="#000" stroke-width="0.9">3</text>
<text x="427.6" y="2607.4" font-family="'Liberation Serif', 'Times New Roman', serif" font-weight="bold" font-size="41" fill="#000" text-anchor="start" textLength="67.0" lengthAdjust="spacingAndGlyphs" stroke="#000" stroke-width="0.9">210</text>
<text x="504.9" y="2594.3" font-family="'Liberation Serif', 'Times New Roman', serif" font-weight="normal" font-size="60" fill="#000" text-anchor="start" textLength="18.0" lengthAdjust="spacingAndGlyphs" stroke="#000" stroke-width="0.5">(</text>
<text x="526.2" y="2593.3" font-family="'Liberation Serif', 'Times New Roman', serif" font-weight="bold" font-style="italic" font-size="58" fill="#000" text-anchor="start" textLength="34.1" lengthAdjust="spacingAndGlyphs" stroke="#000" stroke-width="0.9">u</text>
<text x="562.9" y="2593.3" font-family="'Liberation Serif', 'Times New Roman', serif" font-weight="bold" font-size="58" fill="#000" text-anchor="start" textLength="10.3" lengthAdjust="spacingAndGlyphs" stroke="#000" stroke-width="0.9">,</text>
<text x="586.1" y="2593.3" font-family="'Liberation Serif', 'Times New Roman', serif" font-weight="bold" font-style="italic" font-size="58" fill="#000" text-anchor="start" textLength="32.2" lengthAdjust="spacingAndGlyphs" stroke="#000" stroke-width="0.9">v</text>
<text x="619.5" y="2593.3" font-family="'Liberation Serif', 'Times New Roman', serif" font-weight="bold" font-size="58" fill="#000" text-anchor="start" textLength="10.4" lengthAdjust="spacingAndGlyphs" stroke="#000" stroke-width="0.9">,</text>
<text x="642.7" y="2593.3" font-family="'Liberation Serif', 'Times New Roman', serif" font-weight="bold" font-style="italic" font-size="58" fill="#000" text-anchor="start" textLength="42.5" lengthAdjust="spacingAndGlyphs" stroke="#000" stroke-width="0.9">w</text>
<text x="688.5" y="2594.3" font-family="'Liberation Serif', 'Times New Roman', serif" font-weight="normal" font-size="60" fill="#000" text-anchor="start" textLength="18.0" lengthAdjust="spacingAndGlyphs" stroke="#000" stroke-width="0.5">)</text>
</g>
</g>
<g id="panel-j">
<path d="M1817.2 2412.3 L1380.8 2296.5 M2021.4 2350.1 L1584.9 2234.3 M1394.8 2416.6 L1803.2 2292.2 M1176.6 2358.7 L1584.9 2234.3 M1380.8 2296.5 L1380.8 1875.4 M1584.9 2234.3 L1584.9 1813.2 M1803.2 2292.2 L1803.2 1871.1 M2021.4 2350.1 L2021.4 1929.0 M1176.6 2288.5 L1584.9 2164.1 L2021.4 2279.9 M1176.6 2218.3 L1584.9 2093.9 L2021.4 2209.7 M1176.6 2148.1 L1584.9 2023.7 L2021.4 2139.5 M1176.6 2078.0 L1584.9 1953.6 L2021.4 2069.4 M1176.6 2007.8 L1584.9 1883.4 L2021.4 1999.2 M1176.6 1937.6 L1584.9 1813.2 L2021.4 1929.0" stroke="#e2e2e2" stroke-width="1.8" fill="none"/>
<path d="M1176.6 2358.7 L1613.1 2474.5 L2021.4 2350.1" stroke="#505050" stroke-width="1.5" fill="none"/>
<path d="M1176.6 2358.7 L1176.6 1937.6 M1613.1 2474.5 L1625.7 2477.8 M1817.2 2412.3 L1829.8 2415.6 M2021.4 2350.1 L2034.0 2353.4 M1613.1 2474.5 L1600.7 2478.3 M1394.8 2416.6 L1382.4 2420.4 M1176.6 2358.7 L1164.2 2362.5 M1176.6 2358.7 L1164.0 2355.4 M1176.6 2288.5 L1164.0 2285.2 M1176.6 2218.3 L1164.0 2215.0 M1176.6 2148.1 L1164.0 2144.8 M1176.6 2078.0 L1164.0 2074.6 M1176.6 2007.8 L1164.0 2004.4 M1176.6 1937.6 L1164.0 1934.3" stroke="#7c7c7c" stroke-width="1.8" fill="none"/>
<g stroke="#30081c" stroke-width="1.15" stroke-linejoin="round">
<path d="M1558.2 2307.9 L1599.0 2284.2 L1514.5 2296.3 Z" fill="url(#g258)"/>
<path d="M1473.7 2310.1 L1514.5 2296.3 L1430.0 2298.6 Z" fill="#fa82cf"/>
<path d="M1389.2 2306.8 L1430.0 2298.6 L1345.6 2295.2 Z" fill="#fa81cf"/>
<path d="M1642.7 2295.8 L1683.5 2258.1 L1599.0 2284.2 Z" fill="url(#g267)"/>
<path d="M1304.7 2302.0 L1345.6 2295.2 L1261.1 2290.5 Z" fill="#fa81cf"/>
<path d="M1558.2 2307.9 L1514.5 2296.3 L1473.7 2310.1 Z" fill="#fa81cf"/>
<path d="M1642.7 2295.8 L1599.0 2284.2 L1558.2 2307.9 Z" fill="url(#g257)"/>
<path d="M1220.2 2300.1 L1261.1 2290.5 L1176.6 2288.5 Z" fill="#fa82d0"/>
<path d="M1473.7 2310.1 L1430.0 2298.6 L1389.2 2306.8 Z" fill="#fa82cf"/>
<path d="M1727.1 2269.7 L1768.0 2213.7 L1683.5 2258.1 Z" fill="url(#g274)"/>
<path d="M1389.2 2306.8 L1345.6 2295.2 L1304.7 2302.0 Z" fill="#fa81ce"/>
<path d="M1727.1 2269.7 L1683.5 2258.1 L1642.7 2295.8 Z" fill="url(#g266)"/>
<path d="M1304.7 2302.0 L1261.1 2290.5 L1220.2 2300.1 Z" fill="#fa81cf"/>
<path d="M1601.8 2319.5 L1642.7 2295.8 L1558.2 2307.9 Z" fill="url(#g256)"/>
<path d="M1517.3 2321.7 L1558.2 2307.9 L1473.7 2310.1 Z" fill="#fa82cf"/>
<path d="M1811.6 2225.3 L1768.0 2213.7 L1727.1 2269.7 Z" fill="url(#g273)"/>
<path d="M1432.9 2318.4 L1473.7 2310.1 L1389.2 2306.8 Z" fill="#fa81cf"/>
<path d="M1686.3 2307.4 L1727.1 2269.7 L1642.7 2295.8 Z" fill="url(#g265)"/>
<path d="M1811.6 2225.3 L1852.4 2146.9 L1768.0 2213.7 Z" fill="url(#g279)"/>
<path d="M1768.0 2213.7 L1852.4 2146.9 L1936.9 2053.4 Z" fill="#fd5591"/>
<path d="M1348.4 2313.6 L1389.2 2306.8 L1304.7 2302.0 Z" fill="#fa81cf"/>
<path d="M1601.8 2319.5 L1558.2 2307.9 L1517.3 2321.7 Z" fill="#fa81cf"/>
<path d="M1686.3 2307.4 L1642.7 2295.8 L1601.8 2319.5 Z" fill="url(#g255)"/>
<path d="M1263.9 2311.7 L1304.7 2302.0 L1220.2 2300.1 Z" fill="#fa82d0"/>
<path d="M1517.3 2321.7 L1473.7 2310.1 L1432.9 2318.4 Z" fill="#fa82cf"/>
<path d="M1770.8 2281.3 L1811.6 2225.3 L1727.1 2269.7 Z" fill="url(#g272)"/>
<path d="M1432.9 2318.4 L1389.2 2306.8 L1348.4 2313.6 Z" fill="#fa81ce"/>
<path d="M1770.8 2281.3 L1727.1 2269.7 L1686.3 2307.4 Z" fill="url(#g264)"/>
<path d="M1348.4 2313.6 L1304.7 2302.0 L1263.9 2311.7 Z" fill="#fa81cf"/>
<path d="M1896.1 2158.5 L1852.4 2146.9 L1811.6 2225.3 Z" fill="url(#g278)"/>
<path d="M1645.5 2331.0 L1686.3 2307.4 L1601.8 2319.5 Z" fill="url(#g254)"/>
<path d="M1561.0 2333.3 L1601.8 2319.5 L1517.3 2321.7 Z" fill="#fa82cf"/>
<path d="M1855.3 2236.9 L1811.6 2225.3 L1770.8 2281.3 Z" fill="url(#g271)"/>
<path d="M1476.5 2330.0 L1517.3 2321.7 L1432.9 2318.4 Z" fill="#fa81cf"/>
<path d="M1896.1 2158.5 L1936.9 2053.4 L1852.4 2146.9 Z" fill="url(#g282)"/>
<path d="M1730.0 2319.0 L1770.8 2281.3 L1686.3 2307.4 Z" fill="url(#g263)"/>
<path d="M1855.3 2236.9 L1896.1 2158.5 L1811.6 2225.3 Z" fill="url(#g277)"/>
<path d="M1768.0 2213.7 L1936.9 2053.4 L2021.4 1929.0 Z" fill="#fd5591"/>
<path d="M1392.0 2325.2 L1432.9 2318.4 L1348.4 2313.6 Z" fill="#fa81cf"/>
<path d="M1645.5 2331.0 L1601.8 2319.5 L1561.0 2333.3 Z" fill="#fa81cf"/>
<path d="M1730.0 2319.0 L1686.3 2307.4 L1645.5 2331.0 Z" fill="url(#g253)"/>
<path d="M1307.5 2323.3 L1348.4 2313.6 L1263.9 2311.7 Z" fill="#fa82d0"/>
<path d="M1561.0 2333.3 L1517.3 2321.7 L1476.5 2330.0 Z" fill="#fa82cf"/>
<path d="M1814.4 2292.8 L1855.3 2236.9 L1770.8 2281.3 Z" fill="url(#g270)"/>
<path d="M1476.5 2330.0 L1432.9 2318.4 L1392.0 2325.2 Z" fill="#fa81ce"/>
<path d="M1814.4 2292.8 L1770.8 2281.3 L1730.0 2319.0 Z" fill="url(#g262)"/>
<path d="M1392.0 2325.2 L1348.4 2313.6 L1307.5 2323.3 Z" fill="#fa81cf"/>
<path d="M1939.7 2170.0 L1896.1 2158.5 L1855.3 2236.9 Z" fill="url(#g276)"/>
<path d="M1980.6 2065.0 L1936.9 2053.4 L1896.1 2158.5 Z" fill="url(#g281)"/>
<path d="M1689.1 2342.6 L1730.0 2319.0 L1645.5 2331.0 Z" fill="url(#g252)"/>
<path d="M1604.6 2344.9 L1645.5 2331.0 L1561.0 2333.3 Z" fill="#fa82cf"/>
<path d="M1898.9 2248.5 L1855.3 2236.9 L1814.4 2292.8 Z" fill="url(#g269)"/>
<path d="M1520.2 2341.5 L1561.0 2333.3 L1476.5 2330.0 Z" fill="#fa81cf"/>
<path d="M1939.7 2170.0 L1980.6 2065.0 L1896.1 2158.5 Z" fill="url(#g280)"/>
<path d="M1773.6 2330.5 L1814.4 2292.8 L1730.0 2319.0 Z" fill="url(#g261)"/>
<path d="M1898.9 2248.5 L1939.7 2170.0 L1855.3 2236.9 Z" fill="url(#g275)"/>
<path d="M1435.7 2336.8 L1476.5 2330.0 L1392.0 2325.2 Z" fill="#fa81cf"/>
<path d="M1689.1 2342.6 L1645.5 2331.0 L1604.6 2344.9 Z" fill="#fa81cf"/>
<path d="M1773.6 2330.5 L1730.0 2319.0 L1689.1 2342.6 Z" fill="url(#g251)"/>
<path d="M1351.2 2334.8 L1392.0 2325.2 L1307.5 2323.3 Z" fill="#fa82d0"/>
<path d="M1604.6 2344.9 L1561.0 2333.3 L1520.2 2341.5 Z" fill="#fa82cf"/>
<path d="M1858.1 2304.4 L1898.9 2248.5 L1814.4 2292.8 Z" fill="url(#g268)"/>
<path d="M1980.6 2065.0 L2021.4 1929.0 L1936.9 2053.4 Z" fill="#fd5794"/>
<path d="M1520.2 2341.5 L1476.5 2330.0 L1435.7 2336.8 Z" fill="#fa81ce"/>
<path d="M1858.1 2304.4 L1814.4 2292.8 L1773.6 2330.5 Z" fill="url(#g260)"/>
<path d="M1435.7 2336.8 L1392.0 2325.2 L1351.2 2334.8 Z" fill="#fa81cf"/>
<path d="M1732.8 2354.2 L1773.6 2330.5 L1689.1 2342.6 Z" fill="url(#g250)"/>
<path d="M1648.3 2356.5 L1689.1 2342.6 L1604.6 2344.9 Z" fill="#fa82cf"/>
<path d="M1563.8 2353.1 L1604.6 2344.9 L1520.2 2341.5 Z" fill="#fa81cf"/>
<path d="M1817.2 2342.1 L1858.1 2304.4 L1773.6 2330.5 Z" fill="url(#g259)"/>
<path d="M1479.3 2348.4 L1520.2 2341.5 L1435.7 2336.8 Z" fill="#fa81cf"/>
<path d="M1732.8 2354.2 L1689.1 2342.6 L1648.3 2356.5 Z" fill="#fa81cf"/>
<path d="M1817.2 2342.1 L1773.6 2330.5 L1732.8 2354.2 Z" fill="url(#g249)"/>
<path d="M1394.8 2346.4 L1435.7 2336.8 L1351.2 2334.8 Z" fill="#fa82d0"/>
<path d="M1648.3 2356.5 L1604.6 2344.9 L1563.8 2353.1 Z" fill="#fa82cf"/>
<path d="M1563.8 2353.1 L1520.2 2341.5 L1479.3 2348.4 Z" fill="#fa81ce"/>
<path d="M1479.3 2348.4 L1435.7 2336.8 L1394.8 2346.4 Z" fill="#fa81cf"/>
<path d="M1776.4 2365.8 L1817.2 2342.1 L1732.8 2354.2 Z" fill="url(#g248)"/>
<path d="M1691.9 2368.0 L1732.8 2354.2 L1648.3 2356.5 Z" fill="#fa82cf"/>
<path d="M1607.5 2364.7 L1648.3 2356.5 L1563.8 2353.1 Z" fill="#fa81cf"/>
<path d="M1523.0 2359.9 L1563.8 2353.1 L1479.3 2348.4 Z" fill="#fa81cf"/>
<path d="M1776.4 2365.8 L1732.8 2354.2 L1691.9 2368.0 Z" fill="#fa81cf"/>
<path d="M1438.5 2358.0 L1479.3 2348.4 L1394.8 2346.4 Z" fill="#fa82d0"/>
<path d="M1691.9 2368.0 L1648.3 2356.5 L1607.5 2364.7 Z" fill="#fa82cf"/>
<path d="M1607.5 2364.7 L1563.8 2353.1 L1523.0 2359.9 Z" fill="#fa81ce"/>
<path d="M1523.0 2359.9 L1479.3 2348.4 L1438.5 2358.0 Z" fill="#fa81cf"/>
<path d="M1735.6 2379.6 L1776.4 2365.8 L1691.9 2368.0 Z" fill="#fa82cf"/>
<path d="M1651.1 2376.3 L1691.9 2368.0 L1607.5 2364.7 Z" fill="#fa81cf"/>
<path d="M1566.6 2371.5 L1607.5 2364.7 L1523.0 2359.9 Z" fill="#fa81cf"/>
<path d="M1482.1 2369.6 L1523.0 2359.9 L1438.5 2358.0 Z" fill="#fa82d0"/>
<path d="M1735.6 2379.6 L1691.9 2368.0 L1651.1 2376.3 Z" fill="#fa82cf"/>
<path d="M1651.1 2376.3 L1607.5 2364.7 L1566.6 2371.5 Z" fill="#fa81ce"/>
<path d="M1566.6 2371.5 L1523.0 2359.9 L1482.1 2369.6 Z" fill="#fa81cf"/>
<path d="M1694.8 2387.9 L1735.6 2379.6 L1651.1 2376.3 Z" fill="#fa81cf"/>
<path d="M1610.3 2383.1 L1651.1 2376.3 L1566.6 2371.5 Z" fill="#fa81cf"/>
<path d="M1525.8 2381.2 L1566.6 2371.5 L1482.1 2369.6 Z" fill="#fa82d0"/>
<path d="M1694.8 2387.9 L1651.1 2376.3 L1610.3 2383.1 Z" fill="#fa81ce"/>
<path d="M1610.3 2383.1 L1566.6 2371.5 L1525.8 2381.2 Z" fill="#fa81cf"/>
<path d="M1653.9 2394.7 L1694.8 2387.9 L1610.3 2383.1 Z" fill="#fa81cf"/>
<path d="M1569.4 2392.7 L1610.3 2383.1 L1525.8 2381.2 Z" fill="#fa82d0"/>
<path d="M1653.9 2394.7 L1610.3 2383.1 L1569.4 2392.7 Z" fill="#fa81cf"/>
<path d="M1613.1 2404.3 L1653.9 2394.7 L1569.4 2392.7 Z" fill="#fa82d0"/>
</g>
<g font-family="'Liberation Sans', Arial, sans-serif" font-size="26" fill="#444444">
<text x="1154.1" y="2363.0" text-anchor="end">-0.2</text>
<text x="1154.1" y="2292.0" text-anchor="end">0</text>
<text x="1154.1" y="2221.8" text-anchor="end">0.2</text>
<text x="1154.1" y="2151.6" text-anchor="end">0.4</text>
<text x="1154.1" y="2081.5" text-anchor="end">0.6</text>
<text x="1154.1" y="2011.3" text-anchor="end">0.8</text>
<text x="1154.1" y="1941.1" text-anchor="end">1</text>
<text x="1583.8" y="2508.3" text-anchor="middle">0</text>
<text x="1356.1" y="2449.3" text-anchor="middle">0.5</text>
<text x="1146.8" y="2392.2" text-anchor="middle">1</text>
<text x="1641.8" y="2506.5" text-anchor="middle">0</text>
<text x="1856.2" y="2444.1" text-anchor="middle">0.5</text>
<text x="2051.3" y="2381.1" text-anchor="middle">1</text>
</g>
<g font-family="'Liberation Sans', Arial, sans-serif" font-size="29.5" fill="#444444">
<text x="1803.2" y="2518.3" text-anchor="middle">X</text>
<text x="1414.8" y="2522.6" text-anchor="middle">Y</text>
<text transform="translate(1092.6 2147.1) rotate(-90)" text-anchor="middle">Z</text>
</g>
<g>
<text x="1337.3" y="1785.1" font-family="'Liberation Sans', Arial, Helvetica, sans-serif" font-weight="bold" font-size="26.5" fill="#141414" text-anchor="start" textLength="392.1" lengthAdjust="spacingAndGlyphs" stroke="#141414" stroke-width="0.5">Triangular Basis Function: T</text>
<text x="1729.7" y="1772.8" font-family="'Liberation Sans', Arial, Helvetica, sans-serif" font-weight="bold" font-size="21.5" fill="#141414" text-anchor="start" textLength="10.5" lengthAdjust="spacingAndGlyphs" stroke="#141414" stroke-width="0.5">3</text>
<text x="1730.9" y="1800.7" font-family="'Liberation Sans', Arial, Helvetica, sans-serif" font-weight="bold" font-size="21.5" fill="#141414" text-anchor="start" textLength="34.6" lengthAdjust="spacingAndGlyphs" stroke="#141414" stroke-width="0.5">300</text>
<text x="1770.4" y="1785.1" font-family="'Liberation Sans', Arial, Helvetica, sans-serif" font-weight="bold" font-size="26.5" fill="#141414" text-anchor="start" textLength="89.3" lengthAdjust="spacingAndGlyphs" stroke="#141414" stroke-width="0.5">(u,v,w)</text>
</g>
<g>
<text x="1417.4" y="2593.3" font-family="'Liberation Serif', 'Times New Roman', serif" font-weight="bold" font-size="47.5" fill="#000" text-anchor="end" stroke="#000" stroke-width="0.9">(j)</text>
<text x="1434.4" y="2593.3" font-family="'Liberation Serif', 'Times New Roman', serif" font-weight="bold" font-style="italic" font-size="58" fill="#000" text-anchor="start" textLength="33.0" lengthAdjust="spacingAndGlyphs" stroke="#000" stroke-width="0.9">T</text>
<text x="1469.8" y="2570.7" font-family="'Liberation Serif', 'Times New Roman', serif" font-weight="bold" font-size="41" fill="#000" text-anchor="start" textLength="20.7" lengthAdjust="spacingAndGlyphs" stroke="#000" stroke-width="0.9">3</text>
<text x="1472.4" y="2607.4" font-family="'Liberation Serif', 'Times New Roman', serif" font-weight="bold" font-size="41" fill="#000" text-anchor="start" textLength="67.0" lengthAdjust="spacingAndGlyphs" stroke="#000" stroke-width="0.9">300</text>
<text x="1549.7" y="2594.3" font-family="'Liberation Serif', 'Times New Roman', serif" font-weight="normal" font-size="60" fill="#000" text-anchor="start" textLength="18.0" lengthAdjust="spacingAndGlyphs" stroke="#000" stroke-width="0.5">(</text>
<text x="1571.0" y="2593.3" font-family="'Liberation Serif', 'Times New Roman', serif" font-weight="bold" font-style="italic" font-size="58" fill="#000" text-anchor="start" textLength="34.1" lengthAdjust="spacingAndGlyphs" stroke="#000" stroke-width="0.9">u</text>
<text x="1607.7" y="2593.3" font-family="'Liberation Serif', 'Times New Roman', serif" font-weight="bold" font-size="58" fill="#000" text-anchor="start" textLength="10.3" lengthAdjust="spacingAndGlyphs" stroke="#000" stroke-width="0.9">,</text>
<text x="1630.9" y="2593.3" font-family="'Liberation Serif', 'Times New Roman', serif" font-weight="bold" font-style="italic" font-size="58" fill="#000" text-anchor="start" textLength="32.2" lengthAdjust="spacingAndGlyphs" stroke="#000" stroke-width="0.9">v</text>
<text x="1664.3" y="2593.3" font-family="'Liberation Serif', 'Times New Roman', serif" font-weight="bold" font-size="58" fill="#000" text-anchor="start" textLength="10.4" lengthAdjust="spacingAndGlyphs" stroke="#000" stroke-width="0.9">,</text>
<text x="1687.5" y="2593.3" font-family="'Liberation Serif', 'Times New Roman', serif" font-weight="bold" font-style="italic" font-size="58" fill="#000" text-anchor="start" textLength="42.5" lengthAdjust="spacingAndGlyphs" stroke="#000" stroke-width="0.9">w</text>
<text x="1733.3" y="2594.3" font-family="'Liberation Serif', 'Times New Roman', serif" font-weight="normal" font-size="60" fill="#000" text-anchor="start" textLength="18.0" lengthAdjust="spacingAndGlyphs" stroke="#000" stroke-width="0.5">)</text>
</g>
</g>
</svg></body></html>
